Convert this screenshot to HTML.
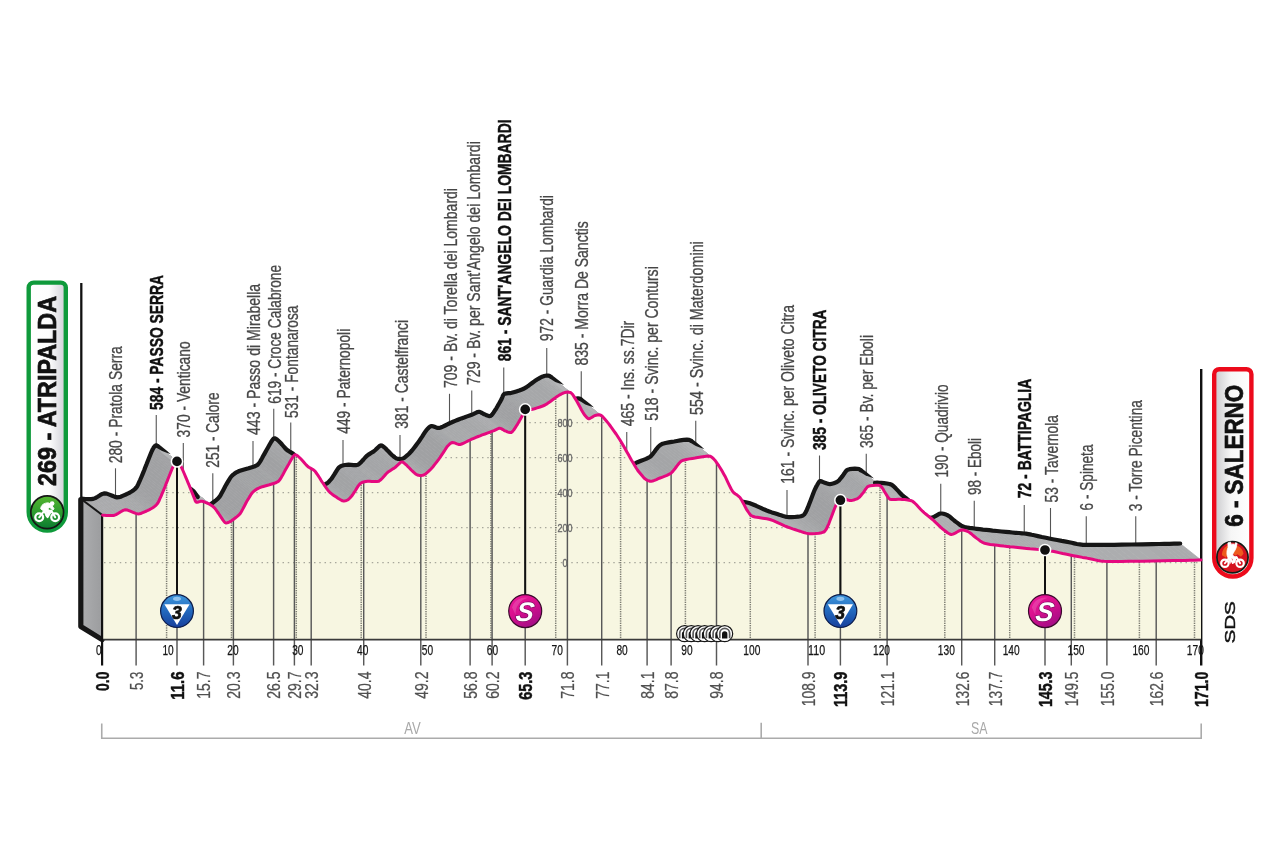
<!DOCTYPE html>
<html lang="it"><head><meta charset="utf-8"><title>Atripalda - Salerno</title>
<style>html,body{margin:0;padding:0;background:#fff}body{width:1280px;height:852px;overflow:hidden}svg{display:block}text{font-family:"Liberation Sans",Arial,Helvetica,sans-serif}.l{fill:#474747;font-size:19px;stroke:#474747;stroke-width:.3px}.b{fill:#111;font-size:19px;font-weight:bold;stroke:#111;stroke-width:.45px}.k{fill:#505050;font-size:19px;stroke:#505050;stroke-width:.25px}.kb{fill:#111;font-size:19px;font-weight:bold;stroke:#111;stroke-width:.45px}.h{fill:#151515;font-size:14.2px;text-anchor:middle;stroke:#151515;stroke-width:.25px}.e{fill:#6a6a6a;font-size:11px;text-anchor:middle;stroke:#6a6a6a;stroke-width:.35px}.p{fill:#a9a9a9;font-size:16.5px;text-anchor:middle}</style></head><body>
<svg width="1280" height="852" viewBox="0 0 1280 852">
<defs><linearGradient id="gl" x1="0" y1="0" x2="1" y2="0"><stop offset="0" stop-color="#fff"/><stop offset="0.55" stop-color="#fdfdfd"/><stop offset="1" stop-color="#cfcfd6"/></linearGradient><linearGradient id="gr" x1="0" y1="0" x2="1" y2="0"><stop offset="0" stop-color="#c9c9cc"/><stop offset="0.45" stop-color="#f6f6f6"/><stop offset="1" stop-color="#fff"/></linearGradient><linearGradient id="gg" x1="0" y1="0" x2="0" y2="1"><stop offset="0" stop-color="#55b52f"/><stop offset="0.55" stop-color="#2a9a30"/><stop offset="1" stop-color="#0a7a30"/></linearGradient><linearGradient id="gb" x1="0" y1="0" x2="0" y2="1"><stop offset="0" stop-color="#3f97dc"/><stop offset="0.5" stop-color="#2268bd"/><stop offset="1" stop-color="#173f9c"/></linearGradient><linearGradient id="gp" x1="0" y1="0" x2="0.6" y2="1"><stop offset="0" stop-color="#f01a9c"/><stop offset="0.5" stop-color="#d90f8e"/><stop offset="1" stop-color="#a60d86"/></linearGradient><radialGradient id="grd" cx="0.5" cy="0.45" r="0.6"><stop offset="0" stop-color="#ea5a28"/><stop offset="0.6" stop-color="#dc2a20"/><stop offset="1" stop-color="#c8141c"/></radialGradient><linearGradient id="side" x1="0" y1="0" x2="1" y2="0"><stop offset="0" stop-color="#adaeb0"/><stop offset="1" stop-color="#9b9c9e"/></linearGradient><g id="tun"><circle r="8.0" fill="#fff" stroke="#151515" stroke-width="1.2"/><path d="M-4.9 4.6V-0.4a4.9 4.9 0 0 1 9.8 0V4.6" fill="none" stroke="#5a5a5a" stroke-width="1.7"/><path d="M-2.7 4.9V0.2a2.7 2.7 0 0 1 5.4 0V4.9Z" fill="#111"/></g><g id="bike" fill="none" stroke="#fff"><circle cx="-8" cy="5" r="3.9" stroke-width="2.3"/><circle cx="8" cy="5" r="3.9" stroke-width="2.3"/><path d="M-8 5L-3 -1.5H4.2L8 5M-3 -1.5L0.3 4.8L4.2 -1.5" stroke-width="2" stroke-linejoin="round" stroke-linecap="round"/></g></defs>
<rect width="1280" height="852" fill="#fff"/>
<g stroke="#555" stroke-width="1.1">
<line x1="115.50" y1="468.3" x2="115.50" y2="497.4"/>
<line x1="156.25" y1="415.0" x2="156.25" y2="445.8"/>
<line x1="183.30" y1="443.0" x2="183.30" y2="486.1"/>
<line x1="212.80" y1="473.3" x2="212.80" y2="503.1"/>
<line x1="253.00" y1="441.0" x2="253.00" y2="467.4"/>
<line x1="273.75" y1="408.8" x2="273.75" y2="439.0"/>
<line x1="290.75" y1="422.5" x2="290.75" y2="452.9"/>
<line x1="343.00" y1="440.0" x2="343.00" y2="466.5"/>
<line x1="400.00" y1="435.0" x2="400.00" y2="459.0"/>
<line x1="449.50" y1="393.8" x2="449.50" y2="423.9"/>
<line x1="471.75" y1="390.5" x2="471.75" y2="415.2"/>
<line x1="503.75" y1="367.5" x2="503.75" y2="395.4"/>
<line x1="546.75" y1="348.0" x2="546.75" y2="376.7"/>
<line x1="581.25" y1="371.2" x2="581.25" y2="400.4"/>
<line x1="626.75" y1="432.0" x2="626.75" y2="463.8"/>
<line x1="650.75" y1="427.0" x2="650.75" y2="456.6"/>
<line x1="695.75" y1="420.8" x2="695.75" y2="446.8"/>
<line x1="787.00" y1="490.0" x2="787.00" y2="517.2"/>
<line x1="819.50" y1="455.5" x2="819.50" y2="482.2"/>
<line x1="866.25" y1="453.8" x2="866.25" y2="479.3"/>
<line x1="940.75" y1="483.8" x2="940.75" y2="514.1"/>
<line x1="974.25" y1="500.8" x2="974.25" y2="529.0"/>
<line x1="1024.25" y1="505.0" x2="1024.25" y2="534.0"/>
<line x1="1050.50" y1="508.0" x2="1050.50" y2="539.2"/>
<line x1="1086.25" y1="516.2" x2="1086.25" y2="545.2"/>
<line x1="1135.75" y1="516.2" x2="1135.75" y2="544.9"/>
</g>
<line x1="81.3" y1="283" x2="81.3" y2="500" stroke="#111" stroke-width="2.3"/>
<line x1="1201.2" y1="369" x2="1201.2" y2="665.5" stroke="#111" stroke-width="2.4"/>
<g stroke-width="0.7">
<polygon points="102.6,515.2 104.1,515.3 83.3,498.8 81.8,498.7" fill="#a8a9ab" stroke="#a8a9ab"/>
<polygon points="104.1,515.3 106.4,515.5 85.6,499.0 83.3,498.8" fill="#a8a9ab" stroke="#a8a9ab"/>
<polygon points="106.4,515.5 109.2,515.6 88.4,499.1 85.6,499.0" fill="#aaabad" stroke="#aaabad"/>
<polygon points="109.2,515.6 111.8,515.6 91.0,499.1 88.4,499.1" fill="#aaabad" stroke="#aaabad"/>
<polygon points="111.8,515.6 114.0,515.4 93.2,498.9 91.0,499.1" fill="#aaabad" stroke="#aaabad"/>
<polygon points="114.0,515.4 116.0,514.6 95.2,498.1 93.2,498.9" fill="#aaabad" stroke="#aaabad"/>
<polygon points="116.0,514.6 118.4,513.2 97.6,496.7 95.2,498.1" fill="#aaabad" stroke="#aaabad"/>
<polygon points="118.4,513.2 120.8,511.7 100.0,495.2 97.6,496.7" fill="#aaabad" stroke="#aaabad"/>
<polygon points="120.8,511.7 123.2,510.4 102.4,493.9 100.0,495.2" fill="#aaabad" stroke="#aaabad"/>
<polygon points="123.2,510.4 125.3,509.8 104.5,493.3 102.4,493.9" fill="#aaabad" stroke="#aaabad"/>
<polygon points="125.3,509.8 127.5,510.1 106.7,493.6 104.5,493.3" fill="#aaabad" stroke="#aaabad"/>
<polygon points="127.5,510.1 130.2,511.1 109.4,494.6 106.7,493.6" fill="#aaabad" stroke="#aaabad"/>
<polygon points="130.2,511.1 133.1,512.3 112.3,495.8 109.4,494.6" fill="#a8a9ab" stroke="#a8a9ab"/>
<polygon points="133.1,512.3 135.8,513.4 115.0,496.9 112.3,495.8" fill="#a8a9ab" stroke="#a8a9ab"/>
<polygon points="135.8,513.4 137.8,513.9 117.0,497.4 115.0,496.9" fill="#a8a9ab" stroke="#a8a9ab"/>
<polygon points="137.8,513.9 139.6,513.7 118.8,497.2 117.0,497.4" fill="#a8a9ab" stroke="#a8a9ab"/>
<polygon points="139.6,513.7 141.5,513.2 120.7,496.7 118.8,497.2" fill="#a8a9ab" stroke="#a8a9ab"/>
<polygon points="141.5,513.2 143.4,512.4 122.6,495.9 120.7,496.7" fill="#a8a9ab" stroke="#a8a9ab"/>
<polygon points="143.4,512.4 145.2,511.6 124.4,495.1 122.6,495.9" fill="#a8a9ab" stroke="#a8a9ab"/>
<polygon points="145.2,511.6 146.6,511.0 125.8,494.5 124.4,495.1" fill="#a8a9ab" stroke="#a8a9ab"/>
<polygon points="146.6,511.0 147.9,510.4 127.1,493.9 125.8,494.5" fill="#a6a7a9" stroke="#a6a7a9"/>
<polygon points="147.9,510.4 149.5,509.6 128.7,493.1 127.1,493.9" fill="#a6a7a9" stroke="#a6a7a9"/>
<polygon points="149.5,509.6 151.0,508.8 130.2,492.3 128.7,493.1" fill="#a4a5a7" stroke="#a4a5a7"/>
<polygon points="151.0,508.8 152.4,508.0 131.6,491.5 130.2,492.3" fill="#a4a5a7" stroke="#a4a5a7"/>
<polygon points="152.4,508.0 153.5,507.3 132.7,490.8 131.6,491.5" fill="#a2a3a5" stroke="#a2a3a5"/>
<polygon points="153.5,507.3 154.4,506.6 133.6,490.1 132.7,490.8" fill="#a2a3a5" stroke="#a2a3a5"/>
<polygon points="154.4,506.6 155.3,505.9 134.5,489.4 133.6,490.1" fill="#a0a1a3" stroke="#a0a1a3"/>
<polygon points="155.3,505.9 156.2,505.0 135.4,488.5 134.5,489.4" fill="#a0a1a3" stroke="#a0a1a3"/>
<polygon points="156.2,505.0 157.1,504.0 136.3,487.5 135.4,488.5" fill="#a0a1a3" stroke="#a0a1a3"/>
<polygon points="157.1,504.0 157.9,502.9 137.1,486.4 136.3,487.5" fill="#a0a1a3" stroke="#a0a1a3"/>
<polygon points="157.9,502.9 158.8,501.3 138.0,484.8 137.1,486.4" fill="#a0a1a3" stroke="#a0a1a3"/>
<polygon points="158.8,501.3 159.8,498.9 139.0,482.4 138.0,484.8" fill="#a0a1a3" stroke="#a0a1a3"/>
<polygon points="159.8,498.9 161.0,496.3 140.2,479.8 139.0,482.4" fill="#a0a1a3" stroke="#a0a1a3"/>
<polygon points="161.0,496.3 162.1,493.7 141.3,477.2 140.2,479.8" fill="#a0a1a3" stroke="#a0a1a3"/>
<polygon points="162.1,493.7 163.0,491.6 142.2,475.1 141.3,477.2" fill="#a0a1a3" stroke="#a0a1a3"/>
<polygon points="163.0,491.6 163.9,489.4 143.1,472.9 142.2,475.1" fill="#a0a1a3" stroke="#a0a1a3"/>
<polygon points="163.9,489.4 165.0,486.7 144.2,470.2 143.1,472.9" fill="#a0a1a3" stroke="#a0a1a3"/>
<polygon points="165.0,486.7 166.1,483.8 145.3,467.3 144.2,470.2" fill="#a0a1a3" stroke="#a0a1a3"/>
<polygon points="166.1,483.8 167.2,481.1 146.4,464.6 145.3,467.3" fill="#a0a1a3" stroke="#a0a1a3"/>
<polygon points="167.2,481.1 168.0,479.0 147.2,462.5 146.4,464.6" fill="#a0a1a3" stroke="#a0a1a3"/>
<polygon points="168.0,479.0 168.8,477.0 148.0,460.5 147.2,462.5" fill="#a0a1a3" stroke="#a0a1a3"/>
<polygon points="168.8,477.0 169.7,474.8 148.9,458.3 148.0,460.5" fill="#a0a1a3" stroke="#a0a1a3"/>
<polygon points="169.7,474.8 170.6,472.5 149.8,456.0 148.9,458.3" fill="#a0a1a3" stroke="#a0a1a3"/>
<polygon points="170.6,472.5 171.4,470.5 150.6,454.0 149.8,456.0" fill="#a0a1a3" stroke="#a0a1a3"/>
<polygon points="171.4,470.5 172.0,469.0 151.2,452.5 150.6,454.0" fill="#a0a1a3" stroke="#a0a1a3"/>
<polygon points="172.0,469.0 172.5,467.9 151.7,451.4 151.2,452.5" fill="#a0a1a3" stroke="#a0a1a3"/>
<polygon points="172.5,467.9 173.0,466.8 152.2,450.3 151.7,451.4" fill="#a0a1a3" stroke="#a0a1a3"/>
<polygon points="173.0,466.8 173.5,465.8 152.7,449.3 152.2,450.3" fill="#a0a1a3" stroke="#a0a1a3"/>
<polygon points="173.5,465.8 174.0,464.9 153.2,448.4 152.7,449.3" fill="#a0a1a3" stroke="#a0a1a3"/>
<polygon points="174.0,464.9 174.3,464.3 153.5,447.8 153.2,448.4" fill="#a0a1a3" stroke="#a0a1a3"/>
<polygon points="174.3,464.3 174.6,463.8 153.8,447.3 153.5,447.8" fill="#a0a1a3" stroke="#a0a1a3"/>
<polygon points="174.6,463.8 174.9,463.4 154.1,446.9 153.8,447.3" fill="#a0a1a3" stroke="#a0a1a3"/>
<polygon points="174.9,463.4 175.3,463.0 154.5,446.5 154.1,446.9" fill="#a0a1a3" stroke="#a0a1a3"/>
<polygon points="175.3,463.0 175.6,462.6 154.8,446.1 154.5,446.5" fill="#a2a3a5" stroke="#a2a3a5"/>
<polygon points="175.6,462.6 175.8,462.4 155.0,445.9 154.8,446.1" fill="#a2a3a5" stroke="#a2a3a5"/>
<polygon points="175.8,462.4 176.0,462.2 155.2,445.7 155.0,445.9" fill="#a4a5a7" stroke="#a4a5a7"/>
<polygon points="176.0,462.2 176.3,462.1 155.5,445.6 155.2,445.7" fill="#a6a7a9" stroke="#a6a7a9"/>
<polygon points="176.3,462.1 176.5,461.9 155.7,445.4 155.5,445.6" fill="#a6a7a9" stroke="#a6a7a9"/>
<polygon points="176.5,461.9 176.8,461.8 156.0,445.3 155.7,445.4" fill="#a8a9ab" stroke="#a8a9ab"/>
<polygon points="176.8,461.8 177.0,461.8 156.2,445.3 156.0,445.3" fill="#aaabad" stroke="#aaabad"/>
<polygon points="177.0,461.8 177.2,461.8 156.4,445.3 156.2,445.3" fill="#acadaf" stroke="#acadaf"/>
<polygon points="177.2,461.8 177.5,461.9 156.7,445.4 156.4,445.3" fill="#aeafb1" stroke="#aeafb1"/>
<polygon points="177.5,461.9 177.7,462.1 156.9,445.6 156.7,445.4" fill="#b0b1b3" stroke="#b0b1b3"/>
<polygon points="177.7,462.1 178.0,462.2 157.2,445.7 156.9,445.6" fill="#b0b1b3" stroke="#b0b1b3"/>
<polygon points="178.0,462.2 178.2,462.4 157.4,445.9 157.2,445.7" fill="#b2b3b5" stroke="#b2b3b5"/>
<polygon points="178.2,462.4 178.4,462.6 157.6,446.1 157.4,445.9" fill="#b4b5b7" stroke="#b4b5b7"/>
<polygon points="178.4,462.6 178.7,463.0 157.9,446.5 157.6,446.1" fill="#b4b5b7" stroke="#b4b5b7"/>
<polygon points="178.7,463.0 179.1,463.4 158.3,446.9 157.9,446.5" fill="#b6b7b9" stroke="#b6b7b9"/>
<polygon points="179.1,463.4 179.4,463.8 158.6,447.3 158.3,446.9" fill="#b6b7b9" stroke="#b6b7b9"/>
<polygon points="179.4,463.8 179.7,464.3 158.9,447.8 158.6,447.3" fill="#b6b7b9" stroke="#b6b7b9"/>
<polygon points="179.7,464.3 180.0,464.8 159.2,448.3 158.9,447.8" fill="#b6b7b9" stroke="#b6b7b9"/>
<polygon points="180.0,464.8 180.4,465.4 159.6,448.9 159.2,448.3" fill="#b6b7b9" stroke="#b6b7b9"/>
<polygon points="180.4,465.4 180.9,466.2 160.1,449.7 159.6,448.9" fill="#b6b7b9" stroke="#b6b7b9"/>
<polygon points="180.9,466.2 181.4,467.2 160.6,450.7 160.1,449.7" fill="#b6b7b9" stroke="#b6b7b9"/>
<polygon points="181.4,467.2 182.0,468.5 161.2,452.0 160.6,450.7" fill="#b6b7b9" stroke="#b6b7b9"/>
<polygon points="196.3,502.2 197.1,502.3 176.3,485.8 175.5,485.7" fill="#b4b5b7" stroke="#b4b5b7"/>
<polygon points="197.1,502.3 198.2,502.0 177.4,485.5 176.3,485.8" fill="#b2b3b5" stroke="#b2b3b5"/>
<polygon points="198.2,502.0 199.5,501.6 178.7,485.1 177.4,485.5" fill="#b2b3b5" stroke="#b2b3b5"/>
<polygon points="199.5,501.6 200.8,501.3 180.0,484.8 178.7,485.1" fill="#b2b3b5" stroke="#b2b3b5"/>
<polygon points="200.8,501.3 201.9,501.2 181.1,484.7 180.0,484.8" fill="#b2b3b5" stroke="#b2b3b5"/>
<polygon points="201.9,501.2 203.2,501.5 182.4,485.0 181.1,484.7" fill="#b2b3b5" stroke="#b2b3b5"/>
<polygon points="203.2,501.5 204.8,502.1 184.0,485.6 182.4,485.0" fill="#b0b1b3" stroke="#b0b1b3"/>
<polygon points="204.8,502.1 206.5,502.8 185.7,486.3 184.0,485.6" fill="#b0b1b3" stroke="#b0b1b3"/>
<polygon points="206.5,502.8 208.2,503.5 187.4,487.0 185.7,486.3" fill="#b0b1b3" stroke="#b0b1b3"/>
<polygon points="208.2,503.5 209.4,504.1 188.6,487.6 187.4,487.0" fill="#b0b1b3" stroke="#b0b1b3"/>
<polygon points="209.4,504.1 210.4,504.7 189.6,488.2 188.6,487.6" fill="#b2b3b5" stroke="#b2b3b5"/>
<polygon points="210.4,504.7 211.5,505.4 190.7,488.9 189.6,488.2" fill="#b2b3b5" stroke="#b2b3b5"/>
<polygon points="211.5,505.4 212.6,506.2 191.8,489.7 190.7,488.9" fill="#b4b5b7" stroke="#b4b5b7"/>
<polygon points="212.6,506.2 213.6,507.1 192.8,490.6 191.8,489.7" fill="#b4b5b7" stroke="#b4b5b7"/>
<polygon points="213.6,507.1 214.5,507.9 193.7,491.4 192.8,490.6" fill="#b6b7b9" stroke="#b6b7b9"/>
<polygon points="214.5,507.9 215.4,509.0 194.6,492.5 193.7,491.4" fill="#b6b7b9" stroke="#b6b7b9"/>
<polygon points="215.4,509.0 216.4,510.4 195.6,493.9 194.6,492.5" fill="#b6b7b9" stroke="#b6b7b9"/>
<polygon points="216.4,510.4 217.5,512.0 196.7,495.5 195.6,493.9" fill="#b6b7b9" stroke="#b6b7b9"/>
<polygon points="217.5,512.0 218.6,513.5 197.8,497.0 196.7,495.5" fill="#b6b7b9" stroke="#b6b7b9"/>
<polygon points="218.6,513.5 219.5,514.8 198.7,498.3 197.8,497.0" fill="#b4b5b7" stroke="#b4b5b7"/>
<polygon points="225.2,522.7 226.1,523.0 205.3,506.5 204.4,506.2" fill="#b0b1b3" stroke="#b0b1b3"/>
<polygon points="226.1,523.0 227.2,522.8 206.4,506.3 205.3,506.5" fill="#aeafb1" stroke="#aeafb1"/>
<polygon points="227.2,522.8 228.3,522.5 207.5,506.0 206.4,506.3" fill="#aeafb1" stroke="#aeafb1"/>
<polygon points="228.3,522.5 229.3,522.0 208.5,505.5 207.5,506.0" fill="#acadaf" stroke="#acadaf"/>
<polygon points="229.3,522.0 230.0,521.7 209.2,505.2 208.5,505.5" fill="#aaabad" stroke="#aaabad"/>
<polygon points="230.0,521.7 230.5,521.5 209.7,505.0 209.2,505.2" fill="#aaabad" stroke="#aaabad"/>
<polygon points="230.5,521.5 230.9,521.2 210.1,504.7 209.7,505.0" fill="#a8a9ab" stroke="#a8a9ab"/>
<polygon points="230.9,521.2 231.3,520.9 210.5,504.4 210.1,504.7" fill="#a6a7a9" stroke="#a6a7a9"/>
<polygon points="231.3,520.9 231.8,520.5 211.0,504.0 210.5,504.4" fill="#a4a5a7" stroke="#a4a5a7"/>
<polygon points="231.8,520.5 232.5,520.0 211.7,503.5 211.0,504.0" fill="#a2a3a5" stroke="#a2a3a5"/>
<polygon points="232.5,520.0 233.6,519.2 212.8,502.7 211.7,503.5" fill="#a2a3a5" stroke="#a2a3a5"/>
<polygon points="233.6,519.2 235.2,518.0 214.4,501.5 212.8,502.7" fill="#a0a1a3" stroke="#a0a1a3"/>
<polygon points="235.2,518.0 237.0,516.6 216.2,500.1 214.4,501.5" fill="#a0a1a3" stroke="#a0a1a3"/>
<polygon points="237.0,516.6 238.7,515.2 217.9,498.7 216.2,500.1" fill="#a0a1a3" stroke="#a0a1a3"/>
<polygon points="238.7,515.2 240.0,513.8 219.2,497.2 217.9,498.7" fill="#a0a1a3" stroke="#a0a1a3"/>
<polygon points="240.0,513.8 241.2,512.0 220.4,495.5 219.2,497.2" fill="#a0a1a3" stroke="#a0a1a3"/>
<polygon points="241.2,512.0 242.5,509.6 221.7,493.1 220.4,495.5" fill="#a0a1a3" stroke="#a0a1a3"/>
<polygon points="242.5,509.6 243.9,507.0 223.1,490.5 221.7,493.1" fill="#a0a1a3" stroke="#a0a1a3"/>
<polygon points="243.9,507.0 245.2,504.5 224.4,488.0 223.1,490.5" fill="#a0a1a3" stroke="#a0a1a3"/>
<polygon points="245.2,504.5 246.2,502.5 225.4,486.0 224.4,488.0" fill="#a0a1a3" stroke="#a0a1a3"/>
<polygon points="246.2,502.5 247.3,500.6 226.5,484.1 225.4,486.0" fill="#a0a1a3" stroke="#a0a1a3"/>
<polygon points="247.3,500.6 248.6,498.4 227.8,481.9 226.5,484.1" fill="#a0a1a3" stroke="#a0a1a3"/>
<polygon points="248.6,498.4 250.0,496.1 229.2,479.6 227.8,481.9" fill="#a0a1a3" stroke="#a0a1a3"/>
<polygon points="250.0,496.1 251.3,494.0 230.5,477.5 229.2,479.6" fill="#a0a1a3" stroke="#a0a1a3"/>
<polygon points="251.3,494.0 252.5,492.5 231.7,476.0 230.5,477.5" fill="#a0a1a3" stroke="#a0a1a3"/>
<polygon points="252.5,492.5 253.7,491.4 232.9,474.9 231.7,476.0" fill="#a0a1a3" stroke="#a0a1a3"/>
<polygon points="253.7,491.4 255.1,490.3 234.3,473.8 232.9,474.9" fill="#a2a3a5" stroke="#a2a3a5"/>
<polygon points="255.1,490.3 256.6,489.2 235.8,472.7 234.3,473.8" fill="#a2a3a5" stroke="#a2a3a5"/>
<polygon points="256.6,489.2 258.3,488.3 237.5,471.8 235.8,472.7" fill="#a2a3a5" stroke="#a2a3a5"/>
<polygon points="258.3,488.3 260.0,487.5 239.2,471.0 237.5,471.8" fill="#a2a3a5" stroke="#a2a3a5"/>
<polygon points="260.0,487.5 262.4,486.7 241.6,470.2 239.2,471.0" fill="#a2a3a5" stroke="#a2a3a5"/>
<polygon points="262.4,486.7 265.8,485.7 245.0,469.2 241.6,470.2" fill="#a2a3a5" stroke="#a2a3a5"/>
<polygon points="265.8,485.7 269.4,484.7 248.6,468.2 245.0,469.2" fill="#a2a3a5" stroke="#a2a3a5"/>
<polygon points="269.4,484.7 272.7,483.7 251.9,467.2 248.6,468.2" fill="#a2a3a5" stroke="#a2a3a5"/>
<polygon points="272.7,483.7 275.0,483.0 254.2,466.5 251.9,467.2" fill="#a2a3a5" stroke="#a2a3a5"/>
<polygon points="275.0,483.0 276.3,482.5 255.5,466.0 254.2,466.5" fill="#a2a3a5" stroke="#a2a3a5"/>
<polygon points="276.3,482.5 277.4,481.9 256.6,465.4 255.5,466.0" fill="#a2a3a5" stroke="#a2a3a5"/>
<polygon points="277.4,481.9 278.3,481.4 257.5,464.9 256.6,465.4" fill="#a2a3a5" stroke="#a2a3a5"/>
<polygon points="278.3,481.4 279.1,480.6 258.3,464.1 257.5,464.9" fill="#a0a1a3" stroke="#a0a1a3"/>
<polygon points="279.1,480.6 280.0,479.5 259.2,463.0 258.3,464.1" fill="#a0a1a3" stroke="#a0a1a3"/>
<polygon points="280.0,479.5 281.2,477.6 260.4,461.1 259.2,463.0" fill="#a0a1a3" stroke="#a0a1a3"/>
<polygon points="281.2,477.6 282.8,474.8 262.0,458.3 260.4,461.1" fill="#a0a1a3" stroke="#a0a1a3"/>
<polygon points="282.8,474.8 284.5,471.6 263.7,455.1 262.0,458.3" fill="#a0a1a3" stroke="#a0a1a3"/>
<polygon points="284.5,471.6 286.2,468.6 265.4,452.1 263.7,455.1" fill="#a0a1a3" stroke="#a0a1a3"/>
<polygon points="286.2,468.6 287.5,466.2 266.7,449.8 265.4,452.1" fill="#a2a3a5" stroke="#a2a3a5"/>
<polygon points="287.5,466.2 288.8,464.0 268.0,447.5 266.7,449.8" fill="#a2a3a5" stroke="#a2a3a5"/>
<polygon points="288.8,464.0 290.3,461.3 269.5,444.8 268.0,447.5" fill="#a4a5a7" stroke="#a4a5a7"/>
<polygon points="290.3,461.3 291.9,458.5 271.1,442.0 269.5,444.8" fill="#a4a5a7" stroke="#a4a5a7"/>
<polygon points="291.9,458.5 293.3,456.3 272.5,439.8 271.1,442.0" fill="#a6a7a9" stroke="#a6a7a9"/>
<polygon points="293.3,456.3 294.5,455.0 273.7,438.5 272.5,439.8" fill="#a6a7a9" stroke="#a6a7a9"/>
<polygon points="294.5,455.0 295.5,454.8 274.7,438.3 273.7,438.5" fill="#a8a9ab" stroke="#a8a9ab"/>
<polygon points="295.5,454.8 296.6,455.2 275.8,438.7 274.7,438.3" fill="#aaabad" stroke="#aaabad"/>
<polygon points="296.6,455.2 297.8,456.0 277.0,439.5 275.8,438.7" fill="#aaabad" stroke="#aaabad"/>
<polygon points="297.8,456.0 298.9,457.0 278.1,440.5 277.0,439.5" fill="#acadaf" stroke="#acadaf"/>
<polygon points="298.9,457.0 300.0,458.0 279.2,441.5 278.1,440.5" fill="#aeafb1" stroke="#aeafb1"/>
<polygon points="300.0,458.0 301.2,459.2 280.4,442.7 279.2,441.5" fill="#aeafb1" stroke="#aeafb1"/>
<polygon points="301.2,459.2 302.8,461.0 282.0,444.5 280.4,442.7" fill="#b0b1b3" stroke="#b0b1b3"/>
<polygon points="302.8,461.0 304.5,463.0 283.7,446.5 282.0,444.5" fill="#b2b3b5" stroke="#b2b3b5"/>
<polygon points="304.5,463.0 306.1,464.9 285.3,448.4 283.7,446.5" fill="#b4b5b7" stroke="#b4b5b7"/>
<polygon points="306.1,464.9 307.5,466.2 286.7,449.8 285.3,448.4" fill="#b6b7b9" stroke="#b6b7b9"/>
<polygon points="307.5,466.2 308.8,467.2 288.0,450.7 286.7,449.8" fill="#b6b7b9" stroke="#b6b7b9"/>
<polygon points="308.8,467.2 310.4,468.1 289.6,451.6 288.0,450.7" fill="#b6b7b9" stroke="#b6b7b9"/>
<polygon points="310.4,468.1 312.1,469.1 291.3,452.6 289.6,451.6" fill="#b6b7b9" stroke="#b6b7b9"/>
<polygon points="312.1,469.1 313.7,470.1 292.9,453.6 291.3,452.6" fill="#b6b7b9" stroke="#b6b7b9"/>
<polygon points="313.7,470.1 315.0,471.2 294.2,454.8 292.9,453.6" fill="#b6b7b9" stroke="#b6b7b9"/>
<polygon points="315.0,471.2 316.3,473.0 295.5,456.5 294.2,454.8" fill="#b6b7b9" stroke="#b6b7b9"/>
<polygon points="316.3,473.0 318.0,475.4 297.2,458.9 295.5,456.5" fill="#b6b7b9" stroke="#b6b7b9"/>
<polygon points="331.1,493.4 332.5,494.5 311.7,478.0 310.3,476.9" fill="#b4b5b7" stroke="#b4b5b7"/>
<polygon points="332.5,494.5 333.8,495.4 313.0,478.9 311.7,478.0" fill="#b4b5b7" stroke="#b4b5b7"/>
<polygon points="333.8,495.4 335.0,496.2 314.2,479.8 313.0,478.9" fill="#b2b3b5" stroke="#b2b3b5"/>
<polygon points="335.0,496.2 336.3,497.1 315.5,480.6 314.2,479.8" fill="#b2b3b5" stroke="#b2b3b5"/>
<polygon points="336.3,497.1 337.9,498.2 317.1,481.7 315.5,480.6" fill="#b0b1b3" stroke="#b0b1b3"/>
<polygon points="337.9,498.2 339.7,499.3 318.9,482.8 317.1,481.7" fill="#b0b1b3" stroke="#b0b1b3"/>
<polygon points="339.7,499.3 341.3,500.2 320.5,483.7 318.9,482.8" fill="#aeafb1" stroke="#aeafb1"/>
<polygon points="341.3,500.2 342.5,500.8 321.7,484.2 320.5,483.7" fill="#acadaf" stroke="#acadaf"/>
<polygon points="342.5,500.8 343.5,500.9 322.7,484.4 321.7,484.2" fill="#acadaf" stroke="#acadaf"/>
<polygon points="343.5,500.9 344.6,500.9 323.8,484.4 322.7,484.4" fill="#aaabad" stroke="#aaabad"/>
<polygon points="344.6,500.9 345.6,500.7 324.8,484.2 323.8,484.4" fill="#a8a9ab" stroke="#a8a9ab"/>
<polygon points="345.6,500.7 346.6,500.4 325.8,483.9 324.8,484.2" fill="#a8a9ab" stroke="#a8a9ab"/>
<polygon points="346.6,500.4 347.5,500.0 326.7,483.5 325.8,483.9" fill="#a6a7a9" stroke="#a6a7a9"/>
<polygon points="347.5,500.0 348.4,499.4 327.6,482.9 326.7,483.5" fill="#a4a5a7" stroke="#a4a5a7"/>
<polygon points="348.4,499.4 349.4,498.5 328.6,482.0 327.6,482.9" fill="#a4a5a7" stroke="#a4a5a7"/>
<polygon points="349.4,498.5 350.4,497.4 329.6,480.9 328.6,482.0" fill="#a4a5a7" stroke="#a4a5a7"/>
<polygon points="350.4,497.4 351.5,496.2 330.7,479.7 329.6,480.9" fill="#a2a3a5" stroke="#a2a3a5"/>
<polygon points="351.5,496.2 352.5,495.0 331.7,478.5 330.7,479.7" fill="#a2a3a5" stroke="#a2a3a5"/>
<polygon points="352.5,495.0 353.7,493.2 332.9,476.7 331.7,478.5" fill="#a2a3a5" stroke="#a2a3a5"/>
<polygon points="353.7,493.2 355.3,490.7 334.5,474.2 332.9,476.7" fill="#a2a3a5" stroke="#a2a3a5"/>
<polygon points="355.3,490.7 357.0,487.9 336.2,471.4 334.5,474.2" fill="#a2a3a5" stroke="#a2a3a5"/>
<polygon points="357.0,487.9 358.6,485.4 337.8,468.9 336.2,471.4" fill="#a2a3a5" stroke="#a2a3a5"/>
<polygon points="358.6,485.4 360.0,483.8 339.2,467.2 337.8,468.9" fill="#a4a5a7" stroke="#a4a5a7"/>
<polygon points="360.0,483.8 361.3,482.9 340.5,466.4 339.2,467.2" fill="#a4a5a7" stroke="#a4a5a7"/>
<polygon points="361.3,482.9 362.8,482.2 342.0,465.7 340.5,466.4" fill="#a4a5a7" stroke="#a4a5a7"/>
<polygon points="362.8,482.2 364.4,481.8 343.6,465.3 342.0,465.7" fill="#a4a5a7" stroke="#a4a5a7"/>
<polygon points="364.4,481.8 366.0,481.5 345.2,465.0 343.6,465.3" fill="#a4a5a7" stroke="#a4a5a7"/>
<polygon points="366.0,481.5 367.5,481.2 346.7,464.8 345.2,465.0" fill="#a4a5a7" stroke="#a4a5a7"/>
<polygon points="367.5,481.2 369.3,481.2 348.5,464.7 346.7,464.8" fill="#a4a5a7" stroke="#a4a5a7"/>
<polygon points="369.3,481.2 371.8,481.4 351.0,464.9 348.5,464.7" fill="#a4a5a7" stroke="#a4a5a7"/>
<polygon points="371.8,481.4 374.4,481.6 353.6,465.1 351.0,464.9" fill="#a4a5a7" stroke="#a4a5a7"/>
<polygon points="374.4,481.6 376.8,481.6 356.0,465.1 353.6,465.1" fill="#a6a7a9" stroke="#a6a7a9"/>
<polygon points="376.8,481.6 378.8,481.2 357.9,464.8 356.0,465.1" fill="#a6a7a9" stroke="#a6a7a9"/>
<polygon points="378.8,481.2 380.4,480.1 359.6,463.6 357.9,464.8" fill="#a6a7a9" stroke="#a6a7a9"/>
<polygon points="380.4,480.1 382.3,478.2 361.5,461.7 359.6,463.6" fill="#a6a7a9" stroke="#a6a7a9"/>
<polygon points="382.3,478.2 384.3,476.0 363.5,459.5 361.5,461.7" fill="#a4a5a7" stroke="#a4a5a7"/>
<polygon points="384.3,476.0 386.0,474.0 365.2,457.5 363.5,459.5" fill="#a4a5a7" stroke="#a4a5a7"/>
<polygon points="386.0,474.0 387.5,472.5 366.7,456.0 365.2,457.5" fill="#a4a5a7" stroke="#a4a5a7"/>
<polygon points="387.5,472.5 388.9,471.4 368.1,454.9 366.7,456.0" fill="#a4a5a7" stroke="#a4a5a7"/>
<polygon points="388.9,471.4 390.5,470.4 369.7,453.9 368.1,454.9" fill="#a4a5a7" stroke="#a4a5a7"/>
<polygon points="390.5,470.4 392.2,469.3 371.4,452.8 369.7,453.9" fill="#a4a5a7" stroke="#a4a5a7"/>
<polygon points="392.2,469.3 393.7,468.4 372.9,451.9 371.4,452.8" fill="#a4a5a7" stroke="#a4a5a7"/>
<polygon points="393.7,468.4 395.0,467.5 374.2,451.0 372.9,451.9" fill="#a4a5a7" stroke="#a4a5a7"/>
<polygon points="395.0,467.5 396.2,466.5 375.4,450.0 374.2,451.0" fill="#a6a7a9" stroke="#a6a7a9"/>
<polygon points="396.2,466.5 397.6,465.1 376.8,448.6 375.4,450.0" fill="#a6a7a9" stroke="#a6a7a9"/>
<polygon points="397.6,465.1 399.0,463.8 378.2,447.3 376.8,448.6" fill="#a8a9ab" stroke="#a8a9ab"/>
<polygon points="399.0,463.8 400.3,462.6 379.5,446.1 378.2,447.3" fill="#aaabad" stroke="#aaabad"/>
<polygon points="400.3,462.6 401.2,462.0 380.4,445.5 379.5,446.1" fill="#aaabad" stroke="#aaabad"/>
<polygon points="401.2,462.0 402.0,461.9 381.2,445.4 380.4,445.5" fill="#acadaf" stroke="#acadaf"/>
<polygon points="402.0,461.9 402.7,462.1 381.9,445.6 381.2,445.4" fill="#acadaf" stroke="#acadaf"/>
<polygon points="402.7,462.1 403.4,462.5 382.6,446.0 381.9,445.6" fill="#acadaf" stroke="#acadaf"/>
<polygon points="403.4,462.5 404.2,463.1 383.4,446.6 382.6,446.0" fill="#aeafb1" stroke="#aeafb1"/>
<polygon points="404.2,463.1 405.0,463.8 384.2,447.2 383.4,446.6" fill="#aeafb1" stroke="#aeafb1"/>
<polygon points="405.0,463.8 406.2,464.8 385.4,448.3 384.2,447.2" fill="#b0b1b3" stroke="#b0b1b3"/>
<polygon points="406.2,464.8 407.8,466.5 387.0,450.0 385.4,448.3" fill="#b0b1b3" stroke="#b0b1b3"/>
<polygon points="407.8,466.5 409.6,468.3 388.8,451.8 387.0,450.0" fill="#b0b1b3" stroke="#b0b1b3"/>
<polygon points="409.6,468.3 411.2,470.0 390.4,453.5 388.8,451.8" fill="#b2b3b5" stroke="#b2b3b5"/>
<polygon points="411.2,470.0 412.5,471.2 391.7,454.8 390.4,453.5" fill="#b2b3b5" stroke="#b2b3b5"/>
<polygon points="412.5,471.2 413.5,472.1 392.7,455.6 391.7,454.8" fill="#b2b3b5" stroke="#b2b3b5"/>
<polygon points="413.5,472.1 414.5,473.0 393.7,456.5 392.7,455.6" fill="#b0b1b3" stroke="#b0b1b3"/>
<polygon points="414.5,473.0 415.6,473.9 394.8,457.4 393.7,456.5" fill="#b0b1b3" stroke="#b0b1b3"/>
<polygon points="415.6,473.9 416.6,474.6 395.8,458.1 394.8,457.4" fill="#b0b1b3" stroke="#b0b1b3"/>
<polygon points="416.6,474.6 417.5,475.0 396.7,458.5 395.8,458.1" fill="#aeafb1" stroke="#aeafb1"/>
<polygon points="417.5,475.0 418.5,475.3 397.7,458.8 396.7,458.5" fill="#aeafb1" stroke="#aeafb1"/>
<polygon points="418.5,475.3 419.8,475.4 399.0,458.9 397.7,458.8" fill="#acadaf" stroke="#acadaf"/>
<polygon points="419.8,475.4 421.2,475.5 400.4,459.0 399.0,458.9" fill="#aaabad" stroke="#aaabad"/>
<polygon points="421.2,475.5 422.6,475.3 401.8,458.8 400.4,459.0" fill="#aaabad" stroke="#aaabad"/>
<polygon points="422.6,475.3 423.8,475.0 402.9,458.5 401.8,458.8" fill="#a8a9ab" stroke="#a8a9ab"/>
<polygon points="423.8,475.0 425.0,474.3 404.2,457.8 402.9,458.5" fill="#a6a7a9" stroke="#a6a7a9"/>
<polygon points="425.0,474.3 426.5,473.1 405.7,456.6 404.2,457.8" fill="#a6a7a9" stroke="#a6a7a9"/>
<polygon points="426.5,473.1 428.2,471.7 407.4,455.2 405.7,456.6" fill="#a4a5a7" stroke="#a4a5a7"/>
<polygon points="428.2,471.7 429.8,470.2 409.0,453.7 407.4,455.2" fill="#a2a3a5" stroke="#a2a3a5"/>
<polygon points="429.8,470.2 431.2,468.8 410.4,452.2 409.0,453.7" fill="#a2a3a5" stroke="#a2a3a5"/>
<polygon points="431.2,468.8 432.8,467.0 412.0,450.5 410.4,452.2" fill="#a0a1a3" stroke="#a0a1a3"/>
<polygon points="432.8,467.0 434.6,464.7 413.8,448.2 412.0,450.5" fill="#a0a1a3" stroke="#a0a1a3"/>
<polygon points="434.6,464.7 436.6,462.1 415.8,445.6 413.8,448.2" fill="#a0a1a3" stroke="#a0a1a3"/>
<polygon points="436.6,462.1 438.5,459.6 417.7,443.1 415.8,445.6" fill="#a0a1a3" stroke="#a0a1a3"/>
<polygon points="438.5,459.6 440.0,457.5 419.2,441.0 417.7,443.1" fill="#a0a1a3" stroke="#a0a1a3"/>
<polygon points="440.0,457.5 441.4,455.4 420.6,438.9 419.2,441.0" fill="#a0a1a3" stroke="#a0a1a3"/>
<polygon points="441.4,455.4 443.1,452.9 422.3,436.4 420.6,438.9" fill="#a0a1a3" stroke="#a0a1a3"/>
<polygon points="443.1,452.9 444.8,450.2 424.0,433.7 422.3,436.4" fill="#a0a1a3" stroke="#a0a1a3"/>
<polygon points="444.8,450.2 446.3,447.9 425.5,431.4 424.0,433.7" fill="#a0a1a3" stroke="#a0a1a3"/>
<polygon points="446.3,447.9 447.5,446.2 426.7,429.8 425.5,431.4" fill="#a2a3a5" stroke="#a2a3a5"/>
<polygon points="447.5,446.2 448.5,445.2 427.7,428.7 426.7,429.8" fill="#a2a3a5" stroke="#a2a3a5"/>
<polygon points="448.5,445.2 449.5,444.2 428.7,427.7 427.7,428.7" fill="#a2a3a5" stroke="#a2a3a5"/>
<polygon points="449.5,444.2 450.5,443.4 429.7,426.9 428.7,427.7" fill="#a4a5a7" stroke="#a4a5a7"/>
<polygon points="450.5,443.4 451.5,442.8 430.7,426.3 429.7,426.9" fill="#a4a5a7" stroke="#a4a5a7"/>
<polygon points="451.5,442.8 452.5,442.5 431.7,426.0 430.7,426.3" fill="#a4a5a7" stroke="#a4a5a7"/>
<polygon points="452.5,442.5 453.7,442.7 432.9,426.2 431.7,426.0" fill="#a4a5a7" stroke="#a4a5a7"/>
<polygon points="453.7,442.7 455.2,443.2 434.4,426.7 432.9,426.2" fill="#a6a7a9" stroke="#a6a7a9"/>
<polygon points="455.2,443.2 456.9,443.9 436.1,427.4 434.4,426.7" fill="#a6a7a9" stroke="#a6a7a9"/>
<polygon points="456.9,443.9 458.5,444.4 437.7,427.9 436.1,427.4" fill="#a6a7a9" stroke="#a6a7a9"/>
<polygon points="458.5,444.4 460.0,444.5 439.2,428.0 437.7,427.9" fill="#a8a9ab" stroke="#a8a9ab"/>
<polygon points="460.0,444.5 461.6,444.0 440.8,427.5 439.2,428.0" fill="#a8a9ab" stroke="#a8a9ab"/>
<polygon points="461.6,444.0 463.7,443.1 442.9,426.6 440.8,427.5" fill="#a8a9ab" stroke="#a8a9ab"/>
<polygon points="463.7,443.1 466.0,442.0 445.2,425.5 442.9,426.6" fill="#a8a9ab" stroke="#a8a9ab"/>
<polygon points="466.0,442.0 468.2,440.9 447.4,424.4 445.2,425.5" fill="#a8a9ab" stroke="#a8a9ab"/>
<polygon points="468.2,440.9 470.0,440.0 449.2,423.5 447.4,424.4" fill="#a8a9ab" stroke="#a8a9ab"/>
<polygon points="470.0,440.0 471.7,439.2 450.9,422.7 449.2,423.5" fill="#a8a9ab" stroke="#a8a9ab"/>
<polygon points="471.7,439.2 473.8,438.3 453.0,421.8 450.9,422.7" fill="#a8a9ab" stroke="#a8a9ab"/>
<polygon points="473.8,438.3 476.0,437.4 455.2,420.9 453.0,421.8" fill="#a8a9ab" stroke="#a8a9ab"/>
<polygon points="476.0,437.4 478.1,436.5 457.3,420.0 455.2,420.9" fill="#a6a7a9" stroke="#a6a7a9"/>
<polygon points="478.1,436.5 480.0,435.8 459.2,419.2 457.3,420.0" fill="#a6a7a9" stroke="#a6a7a9"/>
<polygon points="480.0,435.8 482.2,434.9 461.4,418.4 459.2,419.2" fill="#a6a7a9" stroke="#a6a7a9"/>
<polygon points="482.2,434.9 484.9,434.0 464.1,417.5 461.4,418.4" fill="#a6a7a9" stroke="#a6a7a9"/>
<polygon points="484.9,434.0 487.9,432.9 467.1,416.4 464.1,417.5" fill="#a8a9ab" stroke="#a8a9ab"/>
<polygon points="487.9,432.9 490.5,432.0 469.7,415.5 467.1,416.4" fill="#a8a9ab" stroke="#a8a9ab"/>
<polygon points="490.5,432.0 492.5,431.2 471.7,414.8 469.7,415.5" fill="#a8a9ab" stroke="#a8a9ab"/>
<polygon points="492.5,431.2 494.0,430.6 473.2,414.1 471.7,414.8" fill="#aaabad" stroke="#aaabad"/>
<polygon points="494.0,430.6 495.6,429.8 474.8,413.3 473.2,414.1" fill="#aaabad" stroke="#aaabad"/>
<polygon points="495.6,429.8 497.1,429.1 476.3,412.6 474.8,413.3" fill="#aaabad" stroke="#aaabad"/>
<polygon points="497.1,429.1 498.4,428.5 477.6,412.0 476.3,412.6" fill="#aaabad" stroke="#aaabad"/>
<polygon points="498.4,428.5 499.5,428.2 478.7,411.8 477.6,412.0" fill="#aaabad" stroke="#aaabad"/>
<polygon points="499.5,428.2 500.5,428.4 479.7,411.9 478.7,411.8" fill="#acadaf" stroke="#acadaf"/>
<polygon points="500.5,428.4 501.7,428.9 480.9,412.4 479.7,411.9" fill="#aaabad" stroke="#aaabad"/>
<polygon points="501.7,428.9 502.9,429.6 482.1,413.1 480.9,412.4" fill="#aaabad" stroke="#aaabad"/>
<polygon points="502.9,429.6 504.0,430.3 483.2,413.8 482.1,413.1" fill="#aaabad" stroke="#aaabad"/>
<polygon points="504.0,430.3 505.0,430.8 484.2,414.2 483.2,413.8" fill="#aaabad" stroke="#aaabad"/>
<polygon points="505.0,430.8 506.1,431.2 485.3,414.7 484.2,414.2" fill="#a8a9ab" stroke="#a8a9ab"/>
<polygon points="506.1,431.2 507.4,431.8 486.6,415.3 485.3,414.7" fill="#a8a9ab" stroke="#a8a9ab"/>
<polygon points="507.4,431.8 508.9,432.3 488.1,415.8 486.6,415.3" fill="#a8a9ab" stroke="#a8a9ab"/>
<polygon points="508.9,432.3 510.2,432.6 489.4,416.1 488.1,415.8" fill="#a6a7a9" stroke="#a6a7a9"/>
<polygon points="510.2,432.6 511.2,432.5 490.4,416.0 489.4,416.1" fill="#a6a7a9" stroke="#a6a7a9"/>
<polygon points="511.2,432.5 512.2,431.8 491.4,415.3 490.4,416.0" fill="#a6a7a9" stroke="#a6a7a9"/>
<polygon points="512.2,431.8 513.2,430.6 492.4,414.1 491.4,415.3" fill="#a4a5a7" stroke="#a4a5a7"/>
<polygon points="513.2,430.6 514.3,429.2 493.5,412.7 492.4,414.1" fill="#a2a3a5" stroke="#a2a3a5"/>
<polygon points="514.3,429.2 515.3,427.6 494.5,411.1 493.5,412.7" fill="#a2a3a5" stroke="#a2a3a5"/>
<polygon points="515.3,427.6 516.2,426.2 495.4,409.8 494.5,411.1" fill="#a0a1a3" stroke="#a0a1a3"/>
<polygon points="516.2,426.2 517.3,424.6 496.5,408.1 495.4,409.8" fill="#a0a1a3" stroke="#a0a1a3"/>
<polygon points="517.3,424.6 518.5,422.4 497.7,405.9 496.5,408.1" fill="#a0a1a3" stroke="#a0a1a3"/>
<polygon points="518.5,422.4 519.9,420.0 499.1,403.5 497.7,405.9" fill="#a0a1a3" stroke="#a0a1a3"/>
<polygon points="519.9,420.0 521.1,417.9 500.3,401.4 499.1,403.5" fill="#a0a1a3" stroke="#a0a1a3"/>
<polygon points="521.1,417.9 522.0,416.2 501.2,399.8 500.3,401.4" fill="#a0a1a3" stroke="#a0a1a3"/>
<polygon points="522.0,416.2 522.6,415.0 501.8,398.5 501.2,399.8" fill="#a0a1a3" stroke="#a0a1a3"/>
<polygon points="522.6,415.0 523.2,413.6 502.4,397.1 501.8,398.5" fill="#a0a1a3" stroke="#a0a1a3"/>
<polygon points="523.2,413.6 523.7,412.3 502.9,395.8 502.4,397.1" fill="#a0a1a3" stroke="#a0a1a3"/>
<polygon points="523.7,412.3 524.3,411.2 503.5,394.7 502.9,395.8" fill="#a0a1a3" stroke="#a0a1a3"/>
<polygon points="524.3,411.2 525.0,410.5 504.2,394.0 503.5,394.7" fill="#a2a3a5" stroke="#a2a3a5"/>
<polygon points="525.0,410.5 526.0,410.1 505.2,393.6 504.2,394.0" fill="#a2a3a5" stroke="#a2a3a5"/>
<polygon points="526.0,410.1 527.5,409.9 506.7,393.4 505.2,393.6" fill="#a2a3a5" stroke="#a2a3a5"/>
<polygon points="527.5,409.9 529.1,409.7 508.3,393.2 506.7,393.4" fill="#a2a3a5" stroke="#a2a3a5"/>
<polygon points="529.1,409.7 530.9,409.6 510.1,393.1 508.3,393.2" fill="#a4a5a7" stroke="#a4a5a7"/>
<polygon points="530.9,409.6 532.5,409.2 511.7,392.8 510.1,393.1" fill="#a4a5a7" stroke="#a4a5a7"/>
<polygon points="532.5,409.2 534.5,408.7 513.7,392.2 511.7,392.8" fill="#a4a5a7" stroke="#a4a5a7"/>
<polygon points="534.5,408.7 537.1,407.9 516.3,391.4 513.7,392.2" fill="#a4a5a7" stroke="#a4a5a7"/>
<polygon points="537.1,407.9 540.0,407.0 519.2,390.5 516.3,391.4" fill="#a6a7a9" stroke="#a6a7a9"/>
<polygon points="540.0,407.0 542.7,406.0 521.9,389.5 519.2,390.5" fill="#a6a7a9" stroke="#a6a7a9"/>
<polygon points="542.7,406.0 545.0,405.0 524.2,388.5 521.9,389.5" fill="#a6a7a9" stroke="#a6a7a9"/>
<polygon points="545.0,405.0 547.3,403.6 526.5,387.1 524.2,388.5" fill="#a6a7a9" stroke="#a6a7a9"/>
<polygon points="547.3,403.6 550.0,401.7 529.2,385.2 526.5,387.1" fill="#a6a7a9" stroke="#a6a7a9"/>
<polygon points="550.0,401.7 552.9,399.5 532.1,383.0 529.2,385.2" fill="#a6a7a9" stroke="#a6a7a9"/>
<polygon points="552.9,399.5 555.5,397.6 534.7,381.1 532.1,383.0" fill="#a6a7a9" stroke="#a6a7a9"/>
<polygon points="555.5,397.6 557.5,396.2 536.7,379.8 534.7,381.1" fill="#a6a7a9" stroke="#a6a7a9"/>
<polygon points="557.5,396.2 559.1,395.3 538.3,378.8 536.7,379.8" fill="#a8a9ab" stroke="#a8a9ab"/>
<polygon points="559.1,395.3 560.7,394.4 539.9,377.9 538.3,378.8" fill="#a8a9ab" stroke="#a8a9ab"/>
<polygon points="560.7,394.4 562.3,393.5 541.5,377.0 539.9,377.9" fill="#a8a9ab" stroke="#a8a9ab"/>
<polygon points="562.3,393.5 563.8,392.9 543.0,376.4 541.5,377.0" fill="#aaabad" stroke="#aaabad"/>
<polygon points="563.8,392.9 565.0,392.5 544.2,376.0 543.0,376.4" fill="#acadaf" stroke="#acadaf"/>
<polygon points="565.0,392.5 566.2,392.3 545.4,375.8 544.2,376.0" fill="#acadaf" stroke="#acadaf"/>
<polygon points="566.2,392.3 567.5,392.1 546.7,375.6 545.4,375.8" fill="#aeafb1" stroke="#aeafb1"/>
<polygon points="567.5,392.1 568.9,392.2 548.1,375.7 546.7,375.6" fill="#aeafb1" stroke="#aeafb1"/>
<polygon points="568.9,392.2 570.2,392.4 549.4,375.9 548.1,375.7" fill="#b0b1b3" stroke="#b0b1b3"/>
<polygon points="570.2,392.4 571.2,393.0 550.5,376.5 549.4,375.9" fill="#b2b3b5" stroke="#b2b3b5"/>
<polygon points="571.2,393.0 572.4,394.2 551.6,377.7 550.5,376.5" fill="#b2b3b5" stroke="#b2b3b5"/>
<polygon points="572.4,394.2 573.7,396.1 552.9,379.6 551.6,377.7" fill="#b4b5b7" stroke="#b4b5b7"/>
<polygon points="573.7,396.1 575.1,398.4 554.3,381.9 552.9,379.6" fill="#b4b5b7" stroke="#b4b5b7"/>
<polygon points="575.1,398.4 576.4,400.6 555.6,384.1 554.3,381.9" fill="#b6b7b9" stroke="#b6b7b9"/>
<polygon points="587.8,418.3 588.8,418.8 568.0,402.2 567.0,401.8" fill="#b0b1b3" stroke="#b0b1b3"/>
<polygon points="588.8,418.8 589.8,418.5 569.0,402.0 568.0,402.2" fill="#b0b1b3" stroke="#b0b1b3"/>
<polygon points="589.8,418.5 591.1,417.8 570.3,401.3 569.0,402.0" fill="#b0b1b3" stroke="#b0b1b3"/>
<polygon points="591.1,417.8 592.5,416.9 571.7,400.4 570.3,401.3" fill="#b0b1b3" stroke="#b0b1b3"/>
<polygon points="592.5,416.9 593.9,416.0 573.1,399.5 571.7,400.4" fill="#b0b1b3" stroke="#b0b1b3"/>
<polygon points="593.9,416.0 595.0,415.5 574.2,399.0 573.1,399.5" fill="#aeafb1" stroke="#aeafb1"/>
<polygon points="595.0,415.5 596.1,415.2 575.3,398.7 574.2,399.0" fill="#aeafb1" stroke="#aeafb1"/>
<polygon points="596.1,415.2 597.3,415.0 576.5,398.5 575.3,398.7" fill="#aeafb1" stroke="#aeafb1"/>
<polygon points="597.3,415.0 598.7,414.8 577.9,398.3 576.5,398.5" fill="#b0b1b3" stroke="#b0b1b3"/>
<polygon points="598.7,414.8 600.0,415.0 579.2,398.5 577.9,398.3" fill="#b0b1b3" stroke="#b0b1b3"/>
<polygon points="600.0,415.0 601.2,415.5 580.5,399.0 579.2,398.5" fill="#b0b1b3" stroke="#b0b1b3"/>
<polygon points="601.2,415.5 602.7,416.7 581.9,400.2 580.5,399.0" fill="#b2b3b5" stroke="#b2b3b5"/>
<polygon points="602.7,416.7 604.5,418.7 583.7,402.2 581.9,400.2" fill="#b2b3b5" stroke="#b2b3b5"/>
<polygon points="604.5,418.7 606.4,421.0 585.6,404.5 583.7,402.2" fill="#b4b5b7" stroke="#b4b5b7"/>
<polygon points="606.4,421.0 608.4,423.4 587.6,406.9 585.6,404.5" fill="#b4b5b7" stroke="#b4b5b7"/>
<polygon points="608.4,423.4 610.0,425.5 589.2,409.0 587.6,406.9" fill="#b6b7b9" stroke="#b6b7b9"/>
<polygon points="645.0,478.8 646.1,479.6 625.3,463.1 624.2,462.2" fill="#b2b3b5" stroke="#b2b3b5"/>
<polygon points="646.1,479.6 647.4,480.3 626.6,463.8 625.3,463.1" fill="#b0b1b3" stroke="#b0b1b3"/>
<polygon points="647.4,480.3 648.7,480.8 627.9,464.3 626.6,463.8" fill="#b0b1b3" stroke="#b0b1b3"/>
<polygon points="648.7,480.8 650.0,481.2 629.2,464.7 627.9,464.3" fill="#aeafb1" stroke="#aeafb1"/>
<polygon points="650.0,481.2 651.2,481.2 630.5,464.8 629.2,464.7" fill="#aeafb1" stroke="#aeafb1"/>
<polygon points="651.2,481.2 652.6,481.0 631.8,464.5 630.5,464.8" fill="#acadaf" stroke="#acadaf"/>
<polygon points="652.6,481.0 654.4,480.4 633.6,463.9 631.8,464.5" fill="#acadaf" stroke="#acadaf"/>
<polygon points="654.4,480.4 656.4,479.6 635.6,463.1 633.6,463.9" fill="#aaabad" stroke="#aaabad"/>
<polygon points="656.4,479.6 658.3,478.7 637.5,462.2 635.6,463.1" fill="#a8a9ab" stroke="#a8a9ab"/>
<polygon points="658.3,478.7 660.0,478.0 639.2,461.5 637.5,462.2" fill="#a6a7a9" stroke="#a6a7a9"/>
<polygon points="660.0,478.0 661.9,477.3 641.1,460.8 639.2,461.5" fill="#a6a7a9" stroke="#a6a7a9"/>
<polygon points="661.9,477.3 664.3,476.4 643.5,459.9 641.1,460.8" fill="#a6a7a9" stroke="#a6a7a9"/>
<polygon points="664.3,476.4 666.9,475.4 646.1,458.9 643.5,459.9" fill="#a6a7a9" stroke="#a6a7a9"/>
<polygon points="666.9,475.4 669.3,474.2 648.5,457.7 646.1,458.9" fill="#a4a5a7" stroke="#a4a5a7"/>
<polygon points="669.3,474.2 671.2,473.0 650.5,456.5 648.5,457.7" fill="#a4a5a7" stroke="#a4a5a7"/>
<polygon points="671.2,473.0 673.0,471.1 652.2,454.6 650.5,456.5" fill="#a4a5a7" stroke="#a4a5a7"/>
<polygon points="673.0,471.1 675.1,468.5 654.3,452.0 652.2,454.6" fill="#a4a5a7" stroke="#a4a5a7"/>
<polygon points="675.1,468.5 677.2,465.6 656.4,449.1 654.3,452.0" fill="#a4a5a7" stroke="#a4a5a7"/>
<polygon points="677.2,465.6 679.3,463.0 658.5,446.5 656.4,449.1" fill="#a6a7a9" stroke="#a6a7a9"/>
<polygon points="679.3,463.0 681.2,461.2 660.5,444.8 658.5,446.5" fill="#a6a7a9" stroke="#a6a7a9"/>
<polygon points="681.2,461.2 683.5,460.2 662.7,443.7 660.5,444.8" fill="#a6a7a9" stroke="#a6a7a9"/>
<polygon points="683.5,460.2 686.3,459.5 665.5,443.0 662.7,443.7" fill="#a6a7a9" stroke="#a6a7a9"/>
<polygon points="686.3,459.5 689.5,458.9 668.7,442.4 665.5,443.0" fill="#a6a7a9" stroke="#a6a7a9"/>
<polygon points="689.5,458.9 692.5,458.4 671.7,441.9 668.7,442.4" fill="#a8a9ab" stroke="#a8a9ab"/>
<polygon points="692.5,458.4 695.0,458.0 674.2,441.5 671.7,441.9" fill="#a8a9ab" stroke="#a8a9ab"/>
<polygon points="695.0,458.0 697.7,457.5 676.9,441.0 674.2,441.5" fill="#aaabad" stroke="#aaabad"/>
<polygon points="697.7,457.5 701.0,456.9 680.2,440.4 676.9,441.0" fill="#acadaf" stroke="#acadaf"/>
<polygon points="701.0,456.9 704.5,456.4 683.7,439.9 680.2,440.4" fill="#aeafb1" stroke="#aeafb1"/>
<polygon points="704.5,456.4 707.7,456.1 686.9,439.6 683.7,439.9" fill="#b0b1b3" stroke="#b0b1b3"/>
<polygon points="707.7,456.1 710.0,456.2 689.2,439.8 686.9,439.6" fill="#b0b1b3" stroke="#b0b1b3"/>
<polygon points="710.0,456.2 711.7,457.1 690.9,440.6 689.2,439.8" fill="#b2b3b5" stroke="#b2b3b5"/>
<polygon points="711.7,457.1 713.3,458.5 692.5,442.0 690.9,440.6" fill="#b2b3b5" stroke="#b2b3b5"/>
<polygon points="713.3,458.5 714.9,460.2 694.1,443.7 692.5,442.0" fill="#b4b5b7" stroke="#b4b5b7"/>
<polygon points="714.9,460.2 716.3,462.1 695.5,445.6 694.1,443.7" fill="#b4b5b7" stroke="#b4b5b7"/>
<polygon points="716.3,462.1 717.5,463.8 696.7,447.2 695.5,445.6" fill="#b6b7b9" stroke="#b6b7b9"/>
<polygon points="717.5,463.8 718.8,465.7 698.0,449.2 696.7,447.2" fill="#b6b7b9" stroke="#b6b7b9"/>
<polygon points="733.8,492.7 735.5,494.0 714.7,477.5 713.0,476.2" fill="#b6b7b9" stroke="#b6b7b9"/>
<polygon points="735.5,494.0 737.2,495.1 716.4,478.6 714.7,477.5" fill="#b6b7b9" stroke="#b6b7b9"/>
<polygon points="737.2,495.1 738.7,496.3 717.9,479.8 716.4,478.6" fill="#b6b7b9" stroke="#b6b7b9"/>
<polygon points="750.8,515.2 752.5,516.2 731.7,499.8 730.0,498.7" fill="#b4b5b7" stroke="#b4b5b7"/>
<polygon points="752.5,516.2 755.0,517.0 734.2,500.5 731.7,499.8" fill="#b4b5b7" stroke="#b4b5b7"/>
<polygon points="755.0,517.0 758.7,517.6 737.9,501.1 734.2,500.5" fill="#b4b5b7" stroke="#b4b5b7"/>
<polygon points="758.7,517.6 762.8,518.2 742.0,501.7 737.9,501.1" fill="#b2b3b5" stroke="#b2b3b5"/>
<polygon points="762.8,518.2 766.8,518.8 746.0,502.3 742.0,501.7" fill="#b2b3b5" stroke="#b2b3b5"/>
<polygon points="766.8,518.8 770.0,519.5 749.2,503.0 746.0,502.3" fill="#b2b3b5" stroke="#b2b3b5"/>
<polygon points="770.0,519.5 773.2,520.7 752.4,504.2 749.2,503.0" fill="#b0b1b3" stroke="#b0b1b3"/>
<polygon points="773.2,520.7 777.0,522.3 756.2,505.8 752.4,504.2" fill="#b0b1b3" stroke="#b0b1b3"/>
<polygon points="777.0,522.3 781.0,524.1 760.2,507.6 756.2,505.8" fill="#b0b1b3" stroke="#b0b1b3"/>
<polygon points="781.0,524.1 784.6,525.8 763.8,509.3 760.2,507.6" fill="#aeafb1" stroke="#aeafb1"/>
<polygon points="784.6,525.8 787.5,527.0 766.7,510.5 763.8,509.3" fill="#aeafb1" stroke="#aeafb1"/>
<polygon points="787.5,527.0 790.0,527.9 769.2,511.4 766.7,510.5" fill="#aeafb1" stroke="#aeafb1"/>
<polygon points="790.0,527.9 792.7,528.9 771.9,512.4 769.2,511.4" fill="#aeafb1" stroke="#aeafb1"/>
<polygon points="792.7,528.9 795.5,529.8 774.7,513.3 771.9,512.4" fill="#aeafb1" stroke="#aeafb1"/>
<polygon points="795.5,529.8 798.0,530.6 777.2,514.1 774.7,513.3" fill="#aeafb1" stroke="#aeafb1"/>
<polygon points="798.0,530.6 800.0,531.2 779.2,514.8 777.2,514.1" fill="#aeafb1" stroke="#aeafb1"/>
<polygon points="800.0,531.2 801.8,531.8 781.0,515.3 779.2,514.8" fill="#aeafb1" stroke="#aeafb1"/>
<polygon points="801.8,531.8 803.9,532.5 783.1,516.0 781.0,515.3" fill="#acadaf" stroke="#acadaf"/>
<polygon points="803.9,532.5 806.0,533.1 785.2,516.6 783.1,516.0" fill="#acadaf" stroke="#acadaf"/>
<polygon points="806.0,533.1 808.1,533.5 787.3,517.0 785.2,516.6" fill="#aaabad" stroke="#aaabad"/>
<polygon points="808.1,533.5 810.0,533.8 789.2,517.2 787.3,517.0" fill="#aaabad" stroke="#aaabad"/>
<polygon points="810.0,533.8 812.4,533.7 791.6,517.2 789.2,517.2" fill="#a8a9ab" stroke="#a8a9ab"/>
<polygon points="812.4,533.7 815.5,533.5 794.7,517.0 791.6,517.2" fill="#a8a9ab" stroke="#a8a9ab"/>
<polygon points="815.5,533.5 818.8,533.2 798.0,516.7 794.7,517.0" fill="#a6a7a9" stroke="#a6a7a9"/>
<polygon points="818.8,533.2 821.7,532.7 800.9,516.2 798.0,516.7" fill="#a6a7a9" stroke="#a6a7a9"/>
<polygon points="821.7,532.7 823.8,532.0 803.0,515.5 800.9,516.2" fill="#a4a5a7" stroke="#a4a5a7"/>
<polygon points="823.8,532.0 825.0,531.0 804.2,514.5 803.0,515.5" fill="#a2a3a5" stroke="#a2a3a5"/>
<polygon points="825.0,531.0 826.1,529.4 805.3,512.9 804.2,514.5" fill="#a2a3a5" stroke="#a2a3a5"/>
<polygon points="826.1,529.4 827.1,527.6 806.3,511.1 805.3,512.9" fill="#a0a1a3" stroke="#a0a1a3"/>
<polygon points="827.1,527.6 827.9,525.7 807.1,509.2 806.3,511.1" fill="#a0a1a3" stroke="#a0a1a3"/>
<polygon points="827.9,525.7 828.8,523.8 808.0,507.2 807.1,509.2" fill="#a0a1a3" stroke="#a0a1a3"/>
<polygon points="828.8,523.8 829.8,521.1 809.0,504.6 808.0,507.2" fill="#a0a1a3" stroke="#a0a1a3"/>
<polygon points="829.8,521.1 831.2,517.5 810.4,501.0 809.0,504.6" fill="#a0a1a3" stroke="#a0a1a3"/>
<polygon points="831.2,517.5 832.7,513.5 811.9,497.0 810.4,501.0" fill="#a0a1a3" stroke="#a0a1a3"/>
<polygon points="832.7,513.5 834.0,510.0 813.2,493.5 811.9,497.0" fill="#a0a1a3" stroke="#a0a1a3"/>
<polygon points="834.0,510.0 835.0,507.5 814.2,491.0 813.2,493.5" fill="#a0a1a3" stroke="#a0a1a3"/>
<polygon points="835.0,507.5 835.7,505.9 814.9,489.4 814.2,491.0" fill="#a0a1a3" stroke="#a0a1a3"/>
<polygon points="835.7,505.9 836.4,504.5 815.6,488.0 814.9,489.4" fill="#a0a1a3" stroke="#a0a1a3"/>
<polygon points="836.4,504.5 837.0,503.3 816.2,486.8 815.6,488.0" fill="#a0a1a3" stroke="#a0a1a3"/>
<polygon points="837.0,503.3 837.5,502.3 816.7,485.8 816.2,486.8" fill="#a0a1a3" stroke="#a0a1a3"/>
<polygon points="837.5,502.3 838.0,501.5 817.2,485.0 816.7,485.8" fill="#a0a1a3" stroke="#a0a1a3"/>
<polygon points="838.0,501.5 838.5,500.6 817.7,484.1 817.2,485.0" fill="#a0a1a3" stroke="#a0a1a3"/>
<polygon points="838.5,500.6 839.0,499.7 818.2,483.2 817.7,484.1" fill="#a2a3a5" stroke="#a2a3a5"/>
<polygon points="839.0,499.7 839.6,498.8 818.8,482.3 818.2,483.2" fill="#a2a3a5" stroke="#a2a3a5"/>
<polygon points="839.6,498.8 840.2,498.0 819.4,481.5 818.8,482.3" fill="#a4a5a7" stroke="#a4a5a7"/>
<polygon points="840.2,498.0 840.7,497.6 819.9,481.1 819.4,481.5" fill="#a4a5a7" stroke="#a4a5a7"/>
<polygon points="840.7,497.6 841.2,497.5 820.4,481.0 819.9,481.1" fill="#a6a7a9" stroke="#a6a7a9"/>
<polygon points="841.2,497.5 841.8,497.7 821.0,481.2 820.4,481.0" fill="#a6a7a9" stroke="#a6a7a9"/>
<polygon points="841.8,497.7 842.5,498.0 821.7,481.5 821.0,481.2" fill="#a6a7a9" stroke="#a6a7a9"/>
<polygon points="842.5,498.0 843.2,498.3 822.4,481.8 821.7,481.5" fill="#a8a9ab" stroke="#a8a9ab"/>
<polygon points="843.2,498.3 844.0,498.6 823.2,482.1 822.4,481.8" fill="#a8a9ab" stroke="#a8a9ab"/>
<polygon points="844.0,498.6 845.0,499.0 824.2,482.5 823.2,482.1" fill="#a8a9ab" stroke="#a8a9ab"/>
<polygon points="845.0,499.0 846.4,499.5 825.6,483.0 824.2,482.5" fill="#aaabad" stroke="#aaabad"/>
<polygon points="846.4,499.5 847.9,500.0 827.1,483.5 825.6,483.0" fill="#aaabad" stroke="#aaabad"/>
<polygon points="847.9,500.0 849.4,500.4 828.6,483.9 827.1,483.5" fill="#aaabad" stroke="#aaabad"/>
<polygon points="849.4,500.4 850.7,500.6 829.9,484.1 828.6,483.9" fill="#aaabad" stroke="#aaabad"/>
<polygon points="850.7,500.6 852.0,500.4 831.2,483.9 829.9,484.1" fill="#a8a9ab" stroke="#a8a9ab"/>
<polygon points="852.0,500.4 853.7,500.0 832.9,483.5 831.2,483.9" fill="#a8a9ab" stroke="#a8a9ab"/>
<polygon points="853.7,500.0 855.4,499.4 834.6,482.9 832.9,483.5" fill="#a6a7a9" stroke="#a6a7a9"/>
<polygon points="855.4,499.4 857.0,498.8 836.2,482.3 834.6,482.9" fill="#a6a7a9" stroke="#a6a7a9"/>
<polygon points="857.0,498.8 858.2,498.2 837.4,481.7 836.2,482.3" fill="#a4a5a7" stroke="#a4a5a7"/>
<polygon points="858.2,498.2 859.2,497.4 838.4,480.9 837.4,481.7" fill="#a4a5a7" stroke="#a4a5a7"/>
<polygon points="859.2,497.4 860.2,496.4 839.4,479.9 838.4,480.9" fill="#a4a5a7" stroke="#a4a5a7"/>
<polygon points="860.2,496.4 861.2,495.2 840.4,478.7 839.4,479.9" fill="#a4a5a7" stroke="#a4a5a7"/>
<polygon points="861.2,495.2 862.1,494.0 841.3,477.5 840.4,478.7" fill="#a4a5a7" stroke="#a4a5a7"/>
<polygon points="862.1,494.0 863.0,493.0 842.2,476.5 841.3,477.5" fill="#a4a5a7" stroke="#a4a5a7"/>
<polygon points="863.0,493.0 863.9,491.8 843.1,475.3 842.2,476.5" fill="#a4a5a7" stroke="#a4a5a7"/>
<polygon points="863.9,491.8 864.9,490.2 844.1,473.7 843.1,475.3" fill="#a4a5a7" stroke="#a4a5a7"/>
<polygon points="864.9,490.2 866.0,488.6 845.2,472.1 844.1,473.7" fill="#a4a5a7" stroke="#a4a5a7"/>
<polygon points="866.0,488.6 867.2,487.1 846.4,470.6 845.2,472.1" fill="#a6a7a9" stroke="#a6a7a9"/>
<polygon points="867.2,487.1 868.5,486.2 847.7,469.7 846.4,470.6" fill="#a6a7a9" stroke="#a6a7a9"/>
<polygon points="868.5,486.2 870.3,485.7 849.5,469.2 847.7,469.7" fill="#a8a9ab" stroke="#a8a9ab"/>
<polygon points="870.3,485.7 872.9,485.4 852.1,468.9 849.5,469.2" fill="#aaabad" stroke="#aaabad"/>
<polygon points="872.9,485.4 875.7,485.2 854.9,468.7 852.1,468.9" fill="#acadaf" stroke="#acadaf"/>
<polygon points="875.7,485.2 878.2,485.3 857.4,468.8 854.9,468.7" fill="#acadaf" stroke="#acadaf"/>
<polygon points="878.2,485.3 880.0,485.6 859.2,469.1 857.4,468.8" fill="#aeafb1" stroke="#aeafb1"/>
<polygon points="880.0,485.6 881.2,486.5 860.4,470.0 859.2,469.1" fill="#b0b1b3" stroke="#b0b1b3"/>
<polygon points="881.2,486.5 882.3,487.9 861.5,471.4 860.4,470.0" fill="#b0b1b3" stroke="#b0b1b3"/>
<polygon points="882.3,487.9 883.3,489.6 862.5,473.1 861.5,471.4" fill="#b2b3b5" stroke="#b2b3b5"/>
<polygon points="883.3,489.6 884.2,491.2 863.4,474.7 862.5,473.1" fill="#b2b3b5" stroke="#b2b3b5"/>
<polygon points="884.2,491.2 885.0,492.5 864.2,476.0 863.4,474.7" fill="#b2b3b5" stroke="#b2b3b5"/>
<polygon points="888.9,498.4 890.0,499.2 869.2,482.8 868.1,481.9" fill="#b2b3b5" stroke="#b2b3b5"/>
<polygon points="890.0,499.2 891.5,499.6 870.7,483.1 869.2,482.8" fill="#b2b3b5" stroke="#b2b3b5"/>
<polygon points="891.5,499.6 893.5,499.5 872.7,483.0 870.7,483.1" fill="#b2b3b5" stroke="#b2b3b5"/>
<polygon points="893.5,499.5 895.8,499.4 875.0,482.9 872.7,483.0" fill="#b2b3b5" stroke="#b2b3b5"/>
<polygon points="895.8,499.4 898.0,499.2 877.2,482.7 875.0,482.9" fill="#b2b3b5" stroke="#b2b3b5"/>
<polygon points="898.0,499.2 900.0,499.2 879.2,482.8 877.2,482.7" fill="#b2b3b5" stroke="#b2b3b5"/>
<polygon points="900.0,499.2 902.1,499.4 881.3,482.9 879.2,482.8" fill="#b2b3b5" stroke="#b2b3b5"/>
<polygon points="902.1,499.4 904.8,499.6 884.0,483.1 881.3,482.9" fill="#b0b1b3" stroke="#b0b1b3"/>
<polygon points="904.8,499.6 907.7,500.0 886.9,483.5 884.0,483.1" fill="#b0b1b3" stroke="#b0b1b3"/>
<polygon points="907.7,500.0 910.4,500.5 889.6,484.0 886.9,483.5" fill="#b0b1b3" stroke="#b0b1b3"/>
<polygon points="910.4,500.5 912.5,501.2 891.7,484.8 889.6,484.0" fill="#b0b1b3" stroke="#b0b1b3"/>
<polygon points="912.5,501.2 914.4,502.7 893.6,486.2 891.7,484.8" fill="#b0b1b3" stroke="#b0b1b3"/>
<polygon points="914.4,502.7 916.5,504.8 895.7,488.3 893.6,486.2" fill="#b2b3b5" stroke="#b2b3b5"/>
<polygon points="916.5,504.8 918.7,507.2 897.9,490.7 895.7,488.3" fill="#b2b3b5" stroke="#b2b3b5"/>
<polygon points="918.7,507.2 920.8,509.5 900.0,493.0 897.9,490.7" fill="#b2b3b5" stroke="#b2b3b5"/>
<polygon points="920.8,509.5 922.5,511.2 901.7,494.8 900.0,493.0" fill="#b2b3b5" stroke="#b2b3b5"/>
<polygon points="922.5,511.2 924.3,512.8 903.5,496.3 901.7,494.8" fill="#b4b5b7" stroke="#b4b5b7"/>
<polygon points="924.3,512.8 926.4,514.5 905.6,498.0 903.5,496.3" fill="#b4b5b7" stroke="#b4b5b7"/>
<polygon points="926.4,514.5 928.6,516.3 907.8,499.8 905.6,498.0" fill="#b4b5b7" stroke="#b4b5b7"/>
<polygon points="928.6,516.3 930.7,518.0 909.9,501.5 907.8,499.8" fill="#b4b5b7" stroke="#b4b5b7"/>
<polygon points="930.7,518.0 932.5,519.5 911.7,503.0 909.9,501.5" fill="#b4b5b7" stroke="#b4b5b7"/>
<polygon points="936.4,523.2 938.7,525.3 917.9,508.8 915.6,506.7" fill="#b2b3b5" stroke="#b2b3b5"/>
<polygon points="938.7,525.3 940.8,527.3 920.0,510.8 917.9,508.8" fill="#b2b3b5" stroke="#b2b3b5"/>
<polygon points="940.8,527.3 942.5,528.8 921.7,512.2 920.0,510.8" fill="#b0b1b3" stroke="#b0b1b3"/>
<polygon points="942.5,528.8 944.1,530.1 923.3,513.6 921.7,512.2" fill="#b0b1b3" stroke="#b0b1b3"/>
<polygon points="944.1,530.1 945.9,531.5 925.1,515.0 923.3,513.6" fill="#b0b1b3" stroke="#b0b1b3"/>
<polygon points="945.9,531.5 947.8,533.0 927.0,516.5 925.1,515.0" fill="#b0b1b3" stroke="#b0b1b3"/>
<polygon points="947.8,533.0 949.7,534.0 928.9,517.5 927.0,516.5" fill="#b0b1b3" stroke="#b0b1b3"/>
<polygon points="949.7,534.0 951.2,534.5 930.5,518.0 928.9,517.5" fill="#aeafb1" stroke="#aeafb1"/>
<polygon points="951.2,534.5 953.0,534.1 932.2,517.6 930.5,518.0" fill="#aeafb1" stroke="#aeafb1"/>
<polygon points="953.0,534.1 955.2,533.1 934.4,516.6 932.2,517.6" fill="#aeafb1" stroke="#aeafb1"/>
<polygon points="955.2,533.1 957.5,531.8 936.7,515.3 934.4,516.6" fill="#aeafb1" stroke="#aeafb1"/>
<polygon points="957.5,531.8 959.6,530.6 938.8,514.1 936.7,515.3" fill="#aeafb1" stroke="#aeafb1"/>
<polygon points="959.6,530.6 961.2,530.0 940.5,513.5 938.8,514.1" fill="#aeafb1" stroke="#aeafb1"/>
<polygon points="961.2,530.0 962.7,530.0 941.9,513.5 940.5,513.5" fill="#aeafb1" stroke="#aeafb1"/>
<polygon points="962.7,530.0 964.3,530.3 943.5,513.8 941.9,513.5" fill="#aeafb1" stroke="#aeafb1"/>
<polygon points="964.3,530.3 966.0,530.8 945.2,514.3 943.5,513.8" fill="#aeafb1" stroke="#aeafb1"/>
<polygon points="966.0,530.8 967.5,531.4 946.7,514.9 945.2,514.3" fill="#aeafb1" stroke="#aeafb1"/>
<polygon points="967.5,531.4 968.8,532.0 948.0,515.5 946.7,514.9" fill="#aeafb1" stroke="#aeafb1"/>
<polygon points="968.8,532.0 969.9,532.7 949.1,516.2 948.0,515.5" fill="#aeafb1" stroke="#aeafb1"/>
<polygon points="969.9,532.7 971.2,533.7 950.4,517.2 949.1,516.2" fill="#b0b1b3" stroke="#b0b1b3"/>
<polygon points="971.2,533.7 972.5,534.9 951.7,518.4 950.4,517.2" fill="#b0b1b3" stroke="#b0b1b3"/>
<polygon points="972.5,534.9 973.8,536.0 953.0,519.5 951.7,518.4" fill="#b0b1b3" stroke="#b0b1b3"/>
<polygon points="973.8,536.0 975.0,537.0 954.2,520.5 953.0,519.5" fill="#b0b1b3" stroke="#b0b1b3"/>
<polygon points="975.0,537.0 976.4,538.1 955.6,521.6 954.2,520.5" fill="#b0b1b3" stroke="#b0b1b3"/>
<polygon points="976.4,538.1 978.2,539.4 957.4,522.9 955.6,521.6" fill="#b0b1b3" stroke="#b0b1b3"/>
<polygon points="978.2,539.4 980.1,540.9 959.3,524.4 957.4,522.9" fill="#b0b1b3" stroke="#b0b1b3"/>
<polygon points="980.1,540.9 982.0,542.1 961.2,525.6 959.3,524.4" fill="#b0b1b3" stroke="#b0b1b3"/>
<polygon points="982.0,542.1 983.8,543.0 963.0,526.5 961.2,525.6" fill="#b0b1b3" stroke="#b0b1b3"/>
<polygon points="983.8,543.0 985.6,543.6 964.8,527.1 963.0,526.5" fill="#b0b1b3" stroke="#b0b1b3"/>
<polygon points="985.6,543.6 987.8,544.0 967.0,527.5 964.8,527.1" fill="#b0b1b3" stroke="#b0b1b3"/>
<polygon points="987.8,544.0 990.3,544.4 969.5,527.9 967.0,527.5" fill="#aeafb1" stroke="#aeafb1"/>
<polygon points="990.3,544.4 992.8,544.7 972.0,528.2 969.5,527.9" fill="#aeafb1" stroke="#aeafb1"/>
<polygon points="992.8,544.7 995.0,545.0 974.2,528.5 972.0,528.2" fill="#aeafb1" stroke="#aeafb1"/>
<polygon points="995.0,545.0 997.4,545.3 976.6,528.8 974.2,528.5" fill="#aeafb1" stroke="#aeafb1"/>
<polygon points="997.4,545.3 1000.4,545.7 979.6,529.2 976.6,528.8" fill="#aeafb1" stroke="#aeafb1"/>
<polygon points="1000.4,545.7 1003.8,546.1 983.0,529.6 979.6,529.2" fill="#acadaf" stroke="#acadaf"/>
<polygon points="1003.8,546.1 1007.1,546.4 986.3,529.9 983.0,529.6" fill="#acadaf" stroke="#acadaf"/>
<polygon points="1007.1,546.4 1010.0,546.8 989.2,530.2 986.3,529.9" fill="#acadaf" stroke="#acadaf"/>
<polygon points="1010.0,546.8 1013.4,547.1 992.6,530.6 989.2,530.2" fill="#acadaf" stroke="#acadaf"/>
<polygon points="1013.4,547.1 1017.7,547.5 996.9,531.0 992.6,530.6" fill="#acadaf" stroke="#acadaf"/>
<polygon points="1017.7,547.5 1022.3,548.0 1001.5,531.5 996.9,531.0" fill="#acadaf" stroke="#acadaf"/>
<polygon points="1022.3,548.0 1026.6,548.4 1005.8,531.9 1001.5,531.5" fill="#acadaf" stroke="#acadaf"/>
<polygon points="1026.6,548.4 1030.0,548.8 1009.2,532.2 1005.8,531.9" fill="#acadaf" stroke="#acadaf"/>
<polygon points="1030.0,548.8 1033.0,549.0 1012.2,532.5 1009.2,532.2" fill="#acadaf" stroke="#acadaf"/>
<polygon points="1033.0,549.0 1036.4,549.3 1015.6,532.8 1012.2,532.5" fill="#acadaf" stroke="#acadaf"/>
<polygon points="1036.4,549.3 1039.8,549.5 1019.0,533.0 1015.6,532.8" fill="#acadaf" stroke="#acadaf"/>
<polygon points="1039.8,549.5 1042.8,549.8 1022.0,533.3 1019.0,533.0" fill="#acadaf" stroke="#acadaf"/>
<polygon points="1042.8,549.8 1045.0,550.0 1024.2,533.5 1022.0,533.3" fill="#acadaf" stroke="#acadaf"/>
<polygon points="1045.0,550.0 1046.6,550.2 1025.8,533.7 1024.2,533.5" fill="#acadaf" stroke="#acadaf"/>
<polygon points="1046.6,550.2 1048.0,550.4 1027.2,533.9 1025.8,533.7" fill="#acadaf" stroke="#acadaf"/>
<polygon points="1048.0,550.4 1049.3,550.6 1028.5,534.1 1027.2,533.9" fill="#acadaf" stroke="#acadaf"/>
<polygon points="1049.3,550.6 1050.8,550.9 1030.0,534.4 1028.5,534.1" fill="#acadaf" stroke="#acadaf"/>
<polygon points="1050.8,550.9 1052.5,551.2 1031.7,534.8 1030.0,534.4" fill="#acadaf" stroke="#acadaf"/>
<polygon points="1052.5,551.2 1055.1,551.8 1034.3,535.3 1031.7,534.8" fill="#acadaf" stroke="#acadaf"/>
<polygon points="1055.1,551.8 1058.7,552.6 1037.9,536.1 1034.3,535.3" fill="#acadaf" stroke="#acadaf"/>
<polygon points="1058.7,552.6 1062.7,553.5 1041.9,537.0 1037.9,536.1" fill="#aeafb1" stroke="#aeafb1"/>
<polygon points="1062.7,553.5 1066.7,554.3 1045.9,537.8 1041.9,537.0" fill="#aeafb1" stroke="#aeafb1"/>
<polygon points="1066.7,554.3 1070.0,555.0 1049.2,538.5 1045.9,537.8" fill="#aeafb1" stroke="#aeafb1"/>
<polygon points="1070.0,555.0 1073.5,555.7 1052.7,539.2 1049.2,538.5" fill="#aeafb1" stroke="#aeafb1"/>
<polygon points="1073.5,555.7 1077.9,556.5 1057.1,540.0 1052.7,539.2" fill="#aeafb1" stroke="#aeafb1"/>
<polygon points="1077.9,556.5 1082.5,557.4 1061.7,540.9 1057.1,540.0" fill="#acadaf" stroke="#acadaf"/>
<polygon points="1082.5,557.4 1086.7,558.1 1065.9,541.6 1061.7,540.9" fill="#acadaf" stroke="#acadaf"/>
<polygon points="1086.7,558.1 1090.0,558.8 1069.2,542.2 1065.9,541.6" fill="#acadaf" stroke="#acadaf"/>
<polygon points="1090.0,558.8 1092.5,559.3 1071.7,542.8 1069.2,542.2" fill="#acadaf" stroke="#acadaf"/>
<polygon points="1092.5,559.3 1095.0,559.9 1074.2,543.4 1071.7,542.8" fill="#acadaf" stroke="#acadaf"/>
<polygon points="1095.0,559.9 1097.7,560.5 1076.9,544.0 1074.2,543.4" fill="#acadaf" stroke="#acadaf"/>
<polygon points="1097.7,560.5 1100.5,560.9 1079.7,544.4 1076.9,544.0" fill="#acadaf" stroke="#acadaf"/>
<polygon points="1100.5,560.9 1103.8,561.2 1083.0,544.8 1079.7,544.4" fill="#acadaf" stroke="#acadaf"/>
<polygon points="1103.8,561.2 1108.3,561.4 1087.5,544.9 1083.0,544.8" fill="#acadaf" stroke="#acadaf"/>
<polygon points="1108.3,561.4 1114.4,561.4 1093.6,544.9 1087.5,544.9" fill="#acadaf" stroke="#acadaf"/>
<polygon points="1114.4,561.4 1121.5,561.4 1100.7,544.9 1093.6,544.9" fill="#acadaf" stroke="#acadaf"/>
<polygon points="1121.5,561.4 1128.6,561.3 1107.8,544.8 1100.7,544.9" fill="#acadaf" stroke="#acadaf"/>
<polygon points="1128.6,561.3 1135.0,561.2 1114.2,544.8 1107.8,544.8" fill="#acadaf" stroke="#acadaf"/>
<polygon points="1135.0,561.2 1142.6,561.2 1121.8,544.7 1114.2,544.8" fill="#acadaf" stroke="#acadaf"/>
<polygon points="1142.6,561.2 1152.6,561.0 1131.8,544.5 1121.8,544.7" fill="#acadaf" stroke="#acadaf"/>
<polygon points="1152.6,561.0 1163.3,560.8 1142.5,544.3 1131.8,544.5" fill="#acadaf" stroke="#acadaf"/>
<polygon points="1163.3,560.8 1173.0,560.6 1152.2,544.1 1142.5,544.3" fill="#aaabad" stroke="#aaabad"/>
<polygon points="1173.0,560.6 1180.0,560.5 1159.2,544.0 1152.2,544.1" fill="#aaabad" stroke="#aaabad"/>
<polygon points="1180.0,560.5 1185.1,560.4 1164.3,543.9 1159.2,544.0" fill="#aaabad" stroke="#aaabad"/>
<polygon points="1185.1,560.4 1190.2,560.3 1169.4,543.8 1164.3,543.9" fill="#aaabad" stroke="#aaabad"/>
<polygon points="1190.2,560.3 1194.9,560.2 1174.1,543.7 1169.4,543.8" fill="#aaabad" stroke="#aaabad"/>
<polygon points="1194.9,560.2 1198.6,560.1 1177.8,543.6 1174.1,543.7" fill="#aaabad" stroke="#aaabad"/>
<polygon points="1198.6,560.1 1201.0,560.0 1180.2,543.5 1177.8,543.6" fill="#aaabad" stroke="#aaabad"/>
</g>
<g fill="none" stroke="#161616" stroke-width="4.2" stroke-linejoin="round" stroke-linecap="round">
<polyline points="81.8,498.7 83.3,498.8 85.6,499.0 88.4,499.1 91.0,499.1 93.2,498.9 95.2,498.1 97.6,496.7 100.0,495.2 102.4,493.9 104.5,493.3 106.7,493.6 109.4,494.6 112.3,495.8 115.0,496.9 117.0,497.4 118.8,497.2 120.7,496.7 122.6,495.9 124.4,495.1 125.8,494.5 127.1,493.9 128.7,493.1 130.2,492.3 131.6,491.5 132.7,490.8 133.6,490.1 134.5,489.4 135.4,488.5 136.3,487.5 137.1,486.4 138.0,484.8 139.0,482.4 140.2,479.8 141.3,477.2 142.2,475.1 143.1,472.9 144.2,470.2 145.3,467.3 146.4,464.6 147.2,462.5 148.0,460.5 148.9,458.3 149.8,456.0 150.6,454.0 151.2,452.5 151.7,451.4 152.2,450.3 152.7,449.3 153.2,448.4 153.5,447.8 153.8,447.3 154.1,446.9 154.5,446.5 154.8,446.1 155.0,445.9 155.2,445.7 155.5,445.6 155.7,445.4 156.0,445.3 156.2,445.3 156.4,445.3 156.7,445.4 156.9,445.6 157.2,445.7"/>
<polyline points="188.6,487.6 189.6,488.2 190.7,488.9 191.8,489.7 192.8,490.6 193.7,491.4 194.6,492.5 195.6,493.9 196.7,495.5 197.8,497.0"/>
<polyline points="209.2,505.2 209.7,505.0 210.1,504.7 210.5,504.4 211.0,504.0 211.7,503.5 212.8,502.7 214.4,501.5 216.2,500.1 217.9,498.7 219.2,497.2 220.4,495.5 221.7,493.1 223.1,490.5 224.4,488.0 225.4,486.0 226.5,484.1 227.8,481.9 229.2,479.6 230.5,477.5 231.7,476.0 232.9,474.9 234.3,473.8 235.8,472.7 237.5,471.8 239.2,471.0 241.6,470.2 245.0,469.2 248.6,468.2 251.9,467.2 254.2,466.5 255.5,466.0 256.6,465.4 257.5,464.9 258.3,464.1 259.2,463.0 260.4,461.1 262.0,458.3 263.7,455.1 265.4,452.1 266.7,449.8 268.0,447.5 269.5,444.8 271.1,442.0 272.5,439.8 273.7,438.5 274.7,438.3 275.8,438.7 277.0,439.5 278.1,440.5 279.2,441.5 280.4,442.7 282.0,444.5 283.7,446.5 285.3,448.4 286.7,449.8 288.0,450.7 289.6,451.6 291.3,452.6 292.9,453.6 294.2,454.8 295.5,456.5 297.2,458.9 298.9,461.5 300.4,464.1 301.7,466.0 302.9,467.7 304.2,469.7 305.6,471.6 306.9,473.4 307.9,474.8 309.0,475.8 310.3,476.9 311.7,478.0 313.0,478.9 314.2,479.8 315.5,480.6 317.1,481.7 318.9,482.8 320.5,483.7 321.7,484.2 322.7,484.4 323.8,484.4 324.8,484.2 325.8,483.9 326.7,483.5 327.6,482.9 328.6,482.0 329.6,480.9 330.7,479.7 331.7,478.5 332.9,476.7 334.5,474.2 336.2,471.4 337.8,468.9 339.2,467.2 340.5,466.4 342.0,465.7 343.6,465.3 345.2,465.0 346.7,464.8 348.5,464.7 351.0,464.9 353.6,465.1 356.0,465.1 357.9,464.8 359.6,463.6 361.5,461.7 363.5,459.5 365.2,457.5 366.7,456.0 368.1,454.9 369.7,453.9 371.4,452.8 372.9,451.9 374.2,451.0 375.4,450.0 376.8,448.6 378.2,447.3 379.5,446.1 380.4,445.5 381.2,445.4 381.9,445.6 382.6,446.0 383.4,446.6 384.2,447.2 385.4,448.3 387.0,450.0 388.8,451.8 390.4,453.5 391.7,454.8 392.7,455.6 393.7,456.5 394.8,457.4 395.8,458.1 396.7,458.5 397.7,458.8 399.0,458.9 400.4,459.0 401.8,458.8 402.9,458.5 404.2,457.8 405.7,456.6 407.4,455.2 409.0,453.7 410.4,452.2 412.0,450.5 413.8,448.2 415.8,445.6 417.7,443.1 419.2,441.0 420.6,438.9 422.3,436.4 424.0,433.7 425.5,431.4 426.7,429.8 427.7,428.7 428.7,427.7 429.7,426.9 430.7,426.3 431.7,426.0 432.9,426.2 434.4,426.7 436.1,427.4 437.7,427.9 439.2,428.0 440.8,427.5 442.9,426.6 445.2,425.5 447.4,424.4 449.2,423.5 450.9,422.7 453.0,421.8 455.2,420.9 457.3,420.0 459.2,419.2 461.4,418.4 464.1,417.5 467.1,416.4 469.7,415.5 471.7,414.8 473.2,414.1 474.8,413.3 476.3,412.6 477.6,412.0 478.7,411.8 479.7,411.9 480.9,412.4 482.1,413.1 483.2,413.8 484.2,414.2 485.3,414.7 486.6,415.3 488.1,415.8 489.4,416.1 490.4,416.0 491.4,415.3 492.4,414.1 493.5,412.7 494.5,411.1 495.4,409.8 496.5,408.1 497.7,405.9 499.1,403.5 500.3,401.4 501.2,399.8 501.8,398.5 502.4,397.1 502.9,395.8 503.5,394.7 504.2,394.0 505.2,393.6 506.7,393.4 508.3,393.2 510.1,393.1 511.7,392.8 513.7,392.2 516.3,391.4 519.2,390.5 521.9,389.5 524.2,388.5 526.5,387.1 529.2,385.2 532.1,383.0 534.7,381.1 536.7,379.8 538.3,378.8 539.9,377.9 541.5,377.0 543.0,376.4 544.2,376.0 545.4,375.8 546.7,375.6 548.1,375.7 549.4,375.9 550.5,376.5"/>
<polyline points="574.2,399.0 575.3,398.7 576.5,398.5 577.9,398.3 579.2,398.5 580.5,399.0"/>
<polyline points="633.6,463.9 635.6,463.1 637.5,462.2 639.2,461.5 641.1,460.8 643.5,459.9 646.1,458.9 648.5,457.7 650.5,456.5 652.2,454.6 654.3,452.0 656.4,449.1 658.5,446.5 660.5,444.8 662.7,443.7 665.5,443.0 668.7,442.4 671.7,441.9 674.2,441.5 676.9,441.0 680.2,440.4 683.7,439.9 686.9,439.6 689.2,439.8 690.9,440.6"/>
<polyline points="742.0,501.7 746.0,502.3 749.2,503.0 752.4,504.2 756.2,505.8 760.2,507.6 763.8,509.3 766.7,510.5 769.2,511.4 771.9,512.4 774.7,513.3 777.2,514.1 779.2,514.8 781.0,515.3 783.1,516.0 785.2,516.6 787.3,517.0 789.2,517.2 791.6,517.2 794.7,517.0 798.0,516.7 800.9,516.2 803.0,515.5 804.2,514.5 805.3,512.9 806.3,511.1 807.1,509.2 808.0,507.2 809.0,504.6 810.4,501.0 811.9,497.0 813.2,493.5 814.2,491.0 814.9,489.4 815.6,488.0 816.2,486.8 816.7,485.8 817.2,485.0 817.7,484.1 818.2,483.2 818.8,482.3 819.4,481.5 819.9,481.1 820.4,481.0 821.0,481.2 821.7,481.5 822.4,481.8 823.2,482.1 824.2,482.5 825.6,483.0 827.1,483.5 828.6,483.9 829.9,484.1 831.2,483.9 832.9,483.5 834.6,482.9 836.2,482.3 837.4,481.7 838.4,480.9 839.4,479.9 840.4,478.7 841.3,477.5 842.2,476.5 843.1,475.3 844.1,473.7 845.2,472.1 846.4,470.6 847.7,469.7 849.5,469.2 852.1,468.9 854.9,468.7 857.4,468.8 859.2,469.1 860.4,470.0"/>
<polyline points="875.0,482.9 877.2,482.7 879.2,482.8 881.3,482.9 884.0,483.1 886.9,483.5 889.6,484.0 891.7,484.8 893.6,486.2 895.7,488.3 897.9,490.7 900.0,493.0 901.7,494.8 903.5,496.3 905.6,498.0 907.8,499.8 909.9,501.5 911.7,503.0 913.5,504.6 915.6,506.7 917.9,508.8 920.0,510.8 921.7,512.2 923.3,513.6 925.1,515.0 927.0,516.5 928.9,517.5 930.5,518.0 932.2,517.6 934.4,516.6 936.7,515.3 938.8,514.1 940.5,513.5 941.9,513.5 943.5,513.8 945.2,514.3 946.7,514.9 948.0,515.5 949.1,516.2 950.4,517.2 951.7,518.4 953.0,519.5 954.2,520.5 955.6,521.6 957.4,522.9 959.3,524.4 961.2,525.6 963.0,526.5 964.8,527.1 967.0,527.5 969.5,527.9 972.0,528.2 974.2,528.5 976.6,528.8 979.6,529.2 983.0,529.6 986.3,529.9 989.2,530.2 992.6,530.6 996.9,531.0 1001.5,531.5 1005.8,531.9 1009.2,532.2 1012.2,532.5 1015.6,532.8 1019.0,533.0 1022.0,533.3 1024.2,533.5 1025.8,533.7 1027.2,533.9 1028.5,534.1 1030.0,534.4 1031.7,534.8 1034.3,535.3 1037.9,536.1 1041.9,537.0 1045.9,537.8 1049.2,538.5 1052.7,539.2 1057.1,540.0 1061.7,540.9 1065.9,541.6 1069.2,542.2 1071.7,542.8 1074.2,543.4 1076.9,544.0 1079.7,544.4 1083.0,544.8 1087.5,544.9 1093.6,544.9 1100.7,544.9 1107.8,544.8 1114.2,544.8 1121.8,544.7 1131.8,544.5 1142.5,544.3 1152.2,544.1 1159.2,544.0 1164.3,543.9 1169.4,543.8 1174.1,543.7 1177.8,543.6 1180.2,543.5"/>
</g>
<g fill="#161616">
<polygon points="155.9,447.4 158.5,444.1 167.2,451.0 170.7,454.3 162.1,451.1"/>
<polygon points="549.1,378.1 551.8,374.9 560.5,381.8 564.0,385.1 555.3,381.9"/>
<polygon points="579.1,400.6 581.8,397.4 590.5,404.3 594.0,407.6 585.3,404.4"/>
<polygon points="689.6,442.2 692.2,438.9 700.9,445.9 704.4,449.2 695.8,445.9"/>
<polygon points="859.1,471.6 861.7,468.3 870.4,475.2 873.9,478.5 865.3,475.3"/>
</g>
<polygon points="80.8,498.7 102.6,515.2 102.6,639.6 80.8,627.1" fill="url(#side)"/>
<path d="M80.8 498.7 L102.6 515.2" stroke="#161616" stroke-width="2" fill="none"/>
<path d="M80.8 499.7 V626.5 L102.1 639.6" stroke="#161616" stroke-width="5.2" fill="none" stroke-linejoin="round" stroke-linecap="round"/>
<clipPath id="cf"><path d="M102.6 515.2 L104.1 515.3 L106.4 515.5 L109.2 515.6 L111.8 515.6 L114.0 515.4 L116.0 514.6 L118.4 513.2 L120.8 511.7 L123.2 510.4 L125.3 509.8 L127.5 510.1 L130.2 511.1 L133.1 512.3 L135.8 513.4 L137.8 513.9 L139.6 513.7 L141.5 513.2 L143.4 512.4 L145.2 511.6 L146.6 511.0 L147.9 510.4 L149.5 509.6 L151.0 508.8 L152.4 508.0 L153.5 507.3 L154.4 506.6 L155.3 505.9 L156.2 505.0 L157.1 504.0 L157.9 502.9 L158.8 501.3 L159.8 498.9 L161.0 496.3 L162.1 493.7 L163.0 491.6 L163.9 489.4 L165.0 486.7 L166.1 483.8 L167.2 481.1 L168.0 479.0 L168.8 477.0 L169.7 474.8 L170.6 472.5 L171.4 470.5 L172.0 469.0 L172.5 467.9 L173.0 466.8 L173.5 465.8 L174.0 464.9 L174.3 464.3 L174.6 463.8 L174.9 463.4 L175.3 463.0 L175.6 462.6 L175.8 462.4 L176.0 462.2 L176.3 462.1 L176.5 461.9 L176.8 461.8 L177.0 461.8 L177.2 461.8 L177.5 461.9 L177.7 462.1 L178.0 462.2 L178.2 462.4 L178.4 462.6 L178.7 463.0 L179.1 463.4 L179.4 463.8 L179.7 464.3 L180.0 464.8 L180.4 465.4 L180.9 466.2 L181.4 467.2 L182.0 468.5 L182.9 470.5 L184.2 473.5 L185.6 476.9 L187.0 480.2 L188.1 482.8 L189.2 485.4 L190.4 488.5 L191.7 491.7 L192.9 494.6 L193.7 496.6 L194.3 498.1 L194.8 499.5 L195.2 500.7 L195.7 501.6 L196.3 502.2 L197.1 502.3 L198.2 502.0 L199.5 501.6 L200.8 501.3 L201.9 501.2 L203.2 501.5 L204.8 502.1 L206.5 502.8 L208.2 503.5 L209.4 504.1 L210.4 504.7 L211.5 505.4 L212.6 506.2 L213.6 507.1 L214.5 507.9 L215.4 509.0 L216.4 510.4 L217.5 512.0 L218.6 513.5 L219.5 514.8 L220.5 516.3 L221.7 518.1 L223.0 520.1 L224.2 521.7 L225.2 522.7 L226.1 523.0 L227.2 522.8 L228.3 522.5 L229.3 522.0 L230.0 521.7 L230.5 521.5 L230.9 521.2 L231.3 520.9 L231.8 520.5 L232.5 520.0 L233.6 519.2 L235.2 518.0 L237.0 516.6 L238.7 515.2 L240.0 513.8 L241.2 512.0 L242.5 509.6 L243.9 507.0 L245.2 504.5 L246.2 502.5 L247.3 500.6 L248.6 498.4 L250.0 496.1 L251.3 494.0 L252.5 492.5 L253.7 491.4 L255.1 490.3 L256.6 489.2 L258.3 488.3 L260.0 487.5 L262.4 486.7 L265.8 485.7 L269.4 484.7 L272.7 483.7 L275.0 483.0 L276.3 482.5 L277.4 481.9 L278.3 481.4 L279.1 480.6 L280.0 479.5 L281.2 477.6 L282.8 474.8 L284.5 471.6 L286.2 468.6 L287.5 466.2 L288.8 464.0 L290.3 461.3 L291.9 458.5 L293.3 456.3 L294.5 455.0 L295.5 454.8 L296.6 455.2 L297.8 456.0 L298.9 457.0 L300.0 458.0 L301.2 459.2 L302.8 461.0 L304.5 463.0 L306.1 464.9 L307.5 466.2 L308.8 467.2 L310.4 468.1 L312.1 469.1 L313.7 470.1 L315.0 471.2 L316.3 473.0 L318.0 475.4 L319.7 478.0 L321.2 480.6 L322.5 482.5 L323.7 484.2 L325.0 486.2 L326.4 488.1 L327.7 489.9 L328.8 491.2 L329.8 492.3 L331.1 493.4 L332.5 494.5 L333.8 495.4 L335.0 496.2 L336.3 497.1 L337.9 498.2 L339.7 499.3 L341.3 500.2 L342.5 500.8 L343.5 500.9 L344.6 500.9 L345.6 500.7 L346.6 500.4 L347.5 500.0 L348.4 499.4 L349.4 498.5 L350.4 497.4 L351.5 496.2 L352.5 495.0 L353.7 493.2 L355.3 490.7 L357.0 487.9 L358.6 485.4 L360.0 483.8 L361.3 482.9 L362.8 482.2 L364.4 481.8 L366.0 481.5 L367.5 481.2 L369.3 481.2 L371.8 481.4 L374.4 481.6 L376.8 481.6 L378.8 481.2 L380.4 480.1 L382.3 478.2 L384.3 476.0 L386.0 474.0 L387.5 472.5 L388.9 471.4 L390.5 470.4 L392.2 469.3 L393.7 468.4 L395.0 467.5 L396.2 466.5 L397.6 465.1 L399.0 463.8 L400.3 462.6 L401.2 462.0 L402.0 461.9 L402.7 462.1 L403.4 462.5 L404.2 463.1 L405.0 463.8 L406.2 464.8 L407.8 466.5 L409.6 468.3 L411.2 470.0 L412.5 471.2 L413.5 472.1 L414.5 473.0 L415.6 473.9 L416.6 474.6 L417.5 475.0 L418.5 475.3 L419.8 475.4 L421.2 475.5 L422.6 475.3 L423.8 475.0 L425.0 474.3 L426.5 473.1 L428.2 471.7 L429.8 470.2 L431.2 468.8 L432.8 467.0 L434.6 464.7 L436.6 462.1 L438.5 459.6 L440.0 457.5 L441.4 455.4 L443.1 452.9 L444.8 450.2 L446.3 447.9 L447.5 446.2 L448.5 445.2 L449.5 444.2 L450.5 443.4 L451.5 442.8 L452.5 442.5 L453.7 442.7 L455.2 443.2 L456.9 443.9 L458.5 444.4 L460.0 444.5 L461.6 444.0 L463.7 443.1 L466.0 442.0 L468.2 440.9 L470.0 440.0 L471.7 439.2 L473.8 438.3 L476.0 437.4 L478.1 436.5 L480.0 435.8 L482.2 434.9 L484.9 434.0 L487.9 432.9 L490.5 432.0 L492.5 431.2 L494.0 430.6 L495.6 429.8 L497.1 429.1 L498.4 428.5 L499.5 428.2 L500.5 428.4 L501.7 428.9 L502.9 429.6 L504.0 430.3 L505.0 430.8 L506.1 431.2 L507.4 431.8 L508.9 432.3 L510.2 432.6 L511.2 432.5 L512.2 431.8 L513.2 430.6 L514.3 429.2 L515.3 427.6 L516.2 426.2 L517.3 424.6 L518.5 422.4 L519.9 420.0 L521.1 417.9 L522.0 416.2 L522.6 415.0 L523.2 413.6 L523.7 412.3 L524.3 411.2 L525.0 410.5 L526.0 410.1 L527.5 409.9 L529.1 409.7 L530.9 409.6 L532.5 409.2 L534.5 408.7 L537.1 407.9 L540.0 407.0 L542.7 406.0 L545.0 405.0 L547.3 403.6 L550.0 401.7 L552.9 399.5 L555.5 397.6 L557.5 396.2 L559.1 395.3 L560.7 394.4 L562.3 393.5 L563.8 392.9 L565.0 392.5 L566.2 392.3 L567.5 392.1 L568.9 392.2 L570.2 392.4 L571.2 393.0 L572.4 394.2 L573.7 396.1 L575.1 398.4 L576.4 400.6 L577.5 402.5 L578.6 404.5 L580.0 407.0 L581.4 409.7 L582.7 412.0 L583.8 413.8 L584.7 415.0 L585.7 416.3 L586.8 417.5 L587.8 418.3 L588.8 418.8 L589.8 418.5 L591.1 417.8 L592.5 416.9 L593.9 416.0 L595.0 415.5 L596.1 415.2 L597.3 415.0 L598.7 414.8 L600.0 415.0 L601.2 415.5 L602.7 416.7 L604.5 418.7 L606.4 421.0 L608.4 423.4 L610.0 425.5 L611.7 427.8 L613.8 430.8 L616.1 434.0 L618.2 437.2 L620.0 440.0 L621.8 443.0 L624.0 446.8 L626.3 450.9 L628.4 454.6 L630.0 457.5 L631.4 460.0 L633.1 462.8 L634.7 465.5 L636.2 468.0 L637.5 470.0 L638.8 471.8 L640.5 473.8 L642.2 475.8 L643.7 477.6 L645.0 478.8 L646.1 479.6 L647.4 480.3 L648.7 480.8 L650.0 481.2 L651.2 481.2 L652.6 481.0 L654.4 480.4 L656.4 479.6 L658.3 478.7 L660.0 478.0 L661.9 477.3 L664.3 476.4 L666.9 475.4 L669.3 474.2 L671.2 473.0 L673.0 471.1 L675.1 468.5 L677.2 465.6 L679.3 463.0 L681.2 461.2 L683.5 460.2 L686.3 459.5 L689.5 458.9 L692.5 458.4 L695.0 458.0 L697.7 457.5 L701.0 456.9 L704.5 456.4 L707.7 456.1 L710.0 456.2 L711.7 457.1 L713.3 458.5 L714.9 460.2 L716.3 462.1 L717.5 463.8 L718.8 465.7 L720.4 468.2 L722.1 471.1 L723.7 473.9 L725.0 476.2 L726.3 478.9 L727.9 482.3 L729.6 485.8 L731.2 489.0 L732.5 491.2 L733.8 492.7 L735.5 494.0 L737.2 495.1 L738.7 496.3 L740.0 497.5 L741.2 499.3 L742.5 501.7 L743.9 504.4 L745.2 506.9 L746.2 508.8 L747.2 510.3 L748.3 512.0 L749.5 513.7 L750.8 515.2 L752.5 516.2 L755.0 517.0 L758.7 517.6 L762.8 518.2 L766.8 518.8 L770.0 519.5 L773.2 520.7 L777.0 522.3 L781.0 524.1 L784.6 525.8 L787.5 527.0 L790.0 527.9 L792.7 528.9 L795.5 529.8 L798.0 530.6 L800.0 531.2 L801.8 531.8 L803.9 532.5 L806.0 533.1 L808.1 533.5 L810.0 533.8 L812.4 533.7 L815.5 533.5 L818.8 533.2 L821.7 532.7 L823.8 532.0 L825.0 531.0 L826.1 529.4 L827.1 527.6 L827.9 525.7 L828.8 523.8 L829.8 521.1 L831.2 517.5 L832.7 513.5 L834.0 510.0 L835.0 507.5 L835.7 505.9 L836.4 504.5 L837.0 503.3 L837.5 502.3 L838.0 501.5 L838.5 500.6 L839.0 499.7 L839.6 498.8 L840.2 498.0 L840.7 497.6 L841.2 497.5 L841.8 497.7 L842.5 498.0 L843.2 498.3 L844.0 498.6 L845.0 499.0 L846.4 499.5 L847.9 500.0 L849.4 500.4 L850.7 500.6 L852.0 500.4 L853.7 500.0 L855.4 499.4 L857.0 498.8 L858.2 498.2 L859.2 497.4 L860.2 496.4 L861.2 495.2 L862.1 494.0 L863.0 493.0 L863.9 491.8 L864.9 490.2 L866.0 488.6 L867.2 487.1 L868.5 486.2 L870.3 485.7 L872.9 485.4 L875.7 485.2 L878.2 485.3 L880.0 485.6 L881.2 486.5 L882.3 487.9 L883.3 489.6 L884.2 491.2 L885.0 492.5 L885.8 493.8 L886.8 495.4 L887.8 497.0 L888.9 498.4 L890.0 499.2 L891.5 499.6 L893.5 499.5 L895.8 499.4 L898.0 499.2 L900.0 499.2 L902.1 499.4 L904.8 499.6 L907.7 500.0 L910.4 500.5 L912.5 501.2 L914.4 502.7 L916.5 504.8 L918.7 507.2 L920.8 509.5 L922.5 511.2 L924.3 512.8 L926.4 514.5 L928.6 516.3 L930.7 518.0 L932.5 519.5 L934.3 521.1 L936.4 523.2 L938.7 525.3 L940.8 527.3 L942.5 528.8 L944.1 530.1 L945.9 531.5 L947.8 533.0 L949.7 534.0 L951.2 534.5 L953.0 534.1 L955.2 533.1 L957.5 531.8 L959.6 530.6 L961.2 530.0 L962.7 530.0 L964.3 530.3 L966.0 530.8 L967.5 531.4 L968.8 532.0 L969.9 532.7 L971.2 533.7 L972.5 534.9 L973.8 536.0 L975.0 537.0 L976.4 538.1 L978.2 539.4 L980.1 540.9 L982.0 542.1 L983.8 543.0 L985.6 543.6 L987.8 544.0 L990.3 544.4 L992.8 544.7 L995.0 545.0 L997.4 545.3 L1000.4 545.7 L1003.8 546.1 L1007.1 546.4 L1010.0 546.8 L1013.4 547.1 L1017.7 547.5 L1022.3 548.0 L1026.6 548.4 L1030.0 548.8 L1033.0 549.0 L1036.4 549.3 L1039.8 549.5 L1042.8 549.8 L1045.0 550.0 L1046.6 550.2 L1048.0 550.4 L1049.3 550.6 L1050.8 550.9 L1052.5 551.2 L1055.1 551.8 L1058.7 552.6 L1062.7 553.5 L1066.7 554.3 L1070.0 555.0 L1073.5 555.7 L1077.9 556.5 L1082.5 557.4 L1086.7 558.1 L1090.0 558.8 L1092.5 559.3 L1095.0 559.9 L1097.7 560.5 L1100.5 560.9 L1103.8 561.2 L1108.3 561.4 L1114.4 561.4 L1121.5 561.4 L1128.6 561.3 L1135.0 561.2 L1142.6 561.2 L1152.6 561.0 L1163.3 560.8 L1173.0 560.6 L1180.0 560.5 L1185.1 560.4 L1190.2 560.3 L1194.9 560.2 L1198.6 560.1 L1201.0 560.0 L1201.0 639.6 L102.6 639.6 Z"/></clipPath>
<path d="M102.6 515.2 L104.1 515.3 L106.4 515.5 L109.2 515.6 L111.8 515.6 L114.0 515.4 L116.0 514.6 L118.4 513.2 L120.8 511.7 L123.2 510.4 L125.3 509.8 L127.5 510.1 L130.2 511.1 L133.1 512.3 L135.8 513.4 L137.8 513.9 L139.6 513.7 L141.5 513.2 L143.4 512.4 L145.2 511.6 L146.6 511.0 L147.9 510.4 L149.5 509.6 L151.0 508.8 L152.4 508.0 L153.5 507.3 L154.4 506.6 L155.3 505.9 L156.2 505.0 L157.1 504.0 L157.9 502.9 L158.8 501.3 L159.8 498.9 L161.0 496.3 L162.1 493.7 L163.0 491.6 L163.9 489.4 L165.0 486.7 L166.1 483.8 L167.2 481.1 L168.0 479.0 L168.8 477.0 L169.7 474.8 L170.6 472.5 L171.4 470.5 L172.0 469.0 L172.5 467.9 L173.0 466.8 L173.5 465.8 L174.0 464.9 L174.3 464.3 L174.6 463.8 L174.9 463.4 L175.3 463.0 L175.6 462.6 L175.8 462.4 L176.0 462.2 L176.3 462.1 L176.5 461.9 L176.8 461.8 L177.0 461.8 L177.2 461.8 L177.5 461.9 L177.7 462.1 L178.0 462.2 L178.2 462.4 L178.4 462.6 L178.7 463.0 L179.1 463.4 L179.4 463.8 L179.7 464.3 L180.0 464.8 L180.4 465.4 L180.9 466.2 L181.4 467.2 L182.0 468.5 L182.9 470.5 L184.2 473.5 L185.6 476.9 L187.0 480.2 L188.1 482.8 L189.2 485.4 L190.4 488.5 L191.7 491.7 L192.9 494.6 L193.7 496.6 L194.3 498.1 L194.8 499.5 L195.2 500.7 L195.7 501.6 L196.3 502.2 L197.1 502.3 L198.2 502.0 L199.5 501.6 L200.8 501.3 L201.9 501.2 L203.2 501.5 L204.8 502.1 L206.5 502.8 L208.2 503.5 L209.4 504.1 L210.4 504.7 L211.5 505.4 L212.6 506.2 L213.6 507.1 L214.5 507.9 L215.4 509.0 L216.4 510.4 L217.5 512.0 L218.6 513.5 L219.5 514.8 L220.5 516.3 L221.7 518.1 L223.0 520.1 L224.2 521.7 L225.2 522.7 L226.1 523.0 L227.2 522.8 L228.3 522.5 L229.3 522.0 L230.0 521.7 L230.5 521.5 L230.9 521.2 L231.3 520.9 L231.8 520.5 L232.5 520.0 L233.6 519.2 L235.2 518.0 L237.0 516.6 L238.7 515.2 L240.0 513.8 L241.2 512.0 L242.5 509.6 L243.9 507.0 L245.2 504.5 L246.2 502.5 L247.3 500.6 L248.6 498.4 L250.0 496.1 L251.3 494.0 L252.5 492.5 L253.7 491.4 L255.1 490.3 L256.6 489.2 L258.3 488.3 L260.0 487.5 L262.4 486.7 L265.8 485.7 L269.4 484.7 L272.7 483.7 L275.0 483.0 L276.3 482.5 L277.4 481.9 L278.3 481.4 L279.1 480.6 L280.0 479.5 L281.2 477.6 L282.8 474.8 L284.5 471.6 L286.2 468.6 L287.5 466.2 L288.8 464.0 L290.3 461.3 L291.9 458.5 L293.3 456.3 L294.5 455.0 L295.5 454.8 L296.6 455.2 L297.8 456.0 L298.9 457.0 L300.0 458.0 L301.2 459.2 L302.8 461.0 L304.5 463.0 L306.1 464.9 L307.5 466.2 L308.8 467.2 L310.4 468.1 L312.1 469.1 L313.7 470.1 L315.0 471.2 L316.3 473.0 L318.0 475.4 L319.7 478.0 L321.2 480.6 L322.5 482.5 L323.7 484.2 L325.0 486.2 L326.4 488.1 L327.7 489.9 L328.8 491.2 L329.8 492.3 L331.1 493.4 L332.5 494.5 L333.8 495.4 L335.0 496.2 L336.3 497.1 L337.9 498.2 L339.7 499.3 L341.3 500.2 L342.5 500.8 L343.5 500.9 L344.6 500.9 L345.6 500.7 L346.6 500.4 L347.5 500.0 L348.4 499.4 L349.4 498.5 L350.4 497.4 L351.5 496.2 L352.5 495.0 L353.7 493.2 L355.3 490.7 L357.0 487.9 L358.6 485.4 L360.0 483.8 L361.3 482.9 L362.8 482.2 L364.4 481.8 L366.0 481.5 L367.5 481.2 L369.3 481.2 L371.8 481.4 L374.4 481.6 L376.8 481.6 L378.8 481.2 L380.4 480.1 L382.3 478.2 L384.3 476.0 L386.0 474.0 L387.5 472.5 L388.9 471.4 L390.5 470.4 L392.2 469.3 L393.7 468.4 L395.0 467.5 L396.2 466.5 L397.6 465.1 L399.0 463.8 L400.3 462.6 L401.2 462.0 L402.0 461.9 L402.7 462.1 L403.4 462.5 L404.2 463.1 L405.0 463.8 L406.2 464.8 L407.8 466.5 L409.6 468.3 L411.2 470.0 L412.5 471.2 L413.5 472.1 L414.5 473.0 L415.6 473.9 L416.6 474.6 L417.5 475.0 L418.5 475.3 L419.8 475.4 L421.2 475.5 L422.6 475.3 L423.8 475.0 L425.0 474.3 L426.5 473.1 L428.2 471.7 L429.8 470.2 L431.2 468.8 L432.8 467.0 L434.6 464.7 L436.6 462.1 L438.5 459.6 L440.0 457.5 L441.4 455.4 L443.1 452.9 L444.8 450.2 L446.3 447.9 L447.5 446.2 L448.5 445.2 L449.5 444.2 L450.5 443.4 L451.5 442.8 L452.5 442.5 L453.7 442.7 L455.2 443.2 L456.9 443.9 L458.5 444.4 L460.0 444.5 L461.6 444.0 L463.7 443.1 L466.0 442.0 L468.2 440.9 L470.0 440.0 L471.7 439.2 L473.8 438.3 L476.0 437.4 L478.1 436.5 L480.0 435.8 L482.2 434.9 L484.9 434.0 L487.9 432.9 L490.5 432.0 L492.5 431.2 L494.0 430.6 L495.6 429.8 L497.1 429.1 L498.4 428.5 L499.5 428.2 L500.5 428.4 L501.7 428.9 L502.9 429.6 L504.0 430.3 L505.0 430.8 L506.1 431.2 L507.4 431.8 L508.9 432.3 L510.2 432.6 L511.2 432.5 L512.2 431.8 L513.2 430.6 L514.3 429.2 L515.3 427.6 L516.2 426.2 L517.3 424.6 L518.5 422.4 L519.9 420.0 L521.1 417.9 L522.0 416.2 L522.6 415.0 L523.2 413.6 L523.7 412.3 L524.3 411.2 L525.0 410.5 L526.0 410.1 L527.5 409.9 L529.1 409.7 L530.9 409.6 L532.5 409.2 L534.5 408.7 L537.1 407.9 L540.0 407.0 L542.7 406.0 L545.0 405.0 L547.3 403.6 L550.0 401.7 L552.9 399.5 L555.5 397.6 L557.5 396.2 L559.1 395.3 L560.7 394.4 L562.3 393.5 L563.8 392.9 L565.0 392.5 L566.2 392.3 L567.5 392.1 L568.9 392.2 L570.2 392.4 L571.2 393.0 L572.4 394.2 L573.7 396.1 L575.1 398.4 L576.4 400.6 L577.5 402.5 L578.6 404.5 L580.0 407.0 L581.4 409.7 L582.7 412.0 L583.8 413.8 L584.7 415.0 L585.7 416.3 L586.8 417.5 L587.8 418.3 L588.8 418.8 L589.8 418.5 L591.1 417.8 L592.5 416.9 L593.9 416.0 L595.0 415.5 L596.1 415.2 L597.3 415.0 L598.7 414.8 L600.0 415.0 L601.2 415.5 L602.7 416.7 L604.5 418.7 L606.4 421.0 L608.4 423.4 L610.0 425.5 L611.7 427.8 L613.8 430.8 L616.1 434.0 L618.2 437.2 L620.0 440.0 L621.8 443.0 L624.0 446.8 L626.3 450.9 L628.4 454.6 L630.0 457.5 L631.4 460.0 L633.1 462.8 L634.7 465.5 L636.2 468.0 L637.5 470.0 L638.8 471.8 L640.5 473.8 L642.2 475.8 L643.7 477.6 L645.0 478.8 L646.1 479.6 L647.4 480.3 L648.7 480.8 L650.0 481.2 L651.2 481.2 L652.6 481.0 L654.4 480.4 L656.4 479.6 L658.3 478.7 L660.0 478.0 L661.9 477.3 L664.3 476.4 L666.9 475.4 L669.3 474.2 L671.2 473.0 L673.0 471.1 L675.1 468.5 L677.2 465.6 L679.3 463.0 L681.2 461.2 L683.5 460.2 L686.3 459.5 L689.5 458.9 L692.5 458.4 L695.0 458.0 L697.7 457.5 L701.0 456.9 L704.5 456.4 L707.7 456.1 L710.0 456.2 L711.7 457.1 L713.3 458.5 L714.9 460.2 L716.3 462.1 L717.5 463.8 L718.8 465.7 L720.4 468.2 L722.1 471.1 L723.7 473.9 L725.0 476.2 L726.3 478.9 L727.9 482.3 L729.6 485.8 L731.2 489.0 L732.5 491.2 L733.8 492.7 L735.5 494.0 L737.2 495.1 L738.7 496.3 L740.0 497.5 L741.2 499.3 L742.5 501.7 L743.9 504.4 L745.2 506.9 L746.2 508.8 L747.2 510.3 L748.3 512.0 L749.5 513.7 L750.8 515.2 L752.5 516.2 L755.0 517.0 L758.7 517.6 L762.8 518.2 L766.8 518.8 L770.0 519.5 L773.2 520.7 L777.0 522.3 L781.0 524.1 L784.6 525.8 L787.5 527.0 L790.0 527.9 L792.7 528.9 L795.5 529.8 L798.0 530.6 L800.0 531.2 L801.8 531.8 L803.9 532.5 L806.0 533.1 L808.1 533.5 L810.0 533.8 L812.4 533.7 L815.5 533.5 L818.8 533.2 L821.7 532.7 L823.8 532.0 L825.0 531.0 L826.1 529.4 L827.1 527.6 L827.9 525.7 L828.8 523.8 L829.8 521.1 L831.2 517.5 L832.7 513.5 L834.0 510.0 L835.0 507.5 L835.7 505.9 L836.4 504.5 L837.0 503.3 L837.5 502.3 L838.0 501.5 L838.5 500.6 L839.0 499.7 L839.6 498.8 L840.2 498.0 L840.7 497.6 L841.2 497.5 L841.8 497.7 L842.5 498.0 L843.2 498.3 L844.0 498.6 L845.0 499.0 L846.4 499.5 L847.9 500.0 L849.4 500.4 L850.7 500.6 L852.0 500.4 L853.7 500.0 L855.4 499.4 L857.0 498.8 L858.2 498.2 L859.2 497.4 L860.2 496.4 L861.2 495.2 L862.1 494.0 L863.0 493.0 L863.9 491.8 L864.9 490.2 L866.0 488.6 L867.2 487.1 L868.5 486.2 L870.3 485.7 L872.9 485.4 L875.7 485.2 L878.2 485.3 L880.0 485.6 L881.2 486.5 L882.3 487.9 L883.3 489.6 L884.2 491.2 L885.0 492.5 L885.8 493.8 L886.8 495.4 L887.8 497.0 L888.9 498.4 L890.0 499.2 L891.5 499.6 L893.5 499.5 L895.8 499.4 L898.0 499.2 L900.0 499.2 L902.1 499.4 L904.8 499.6 L907.7 500.0 L910.4 500.5 L912.5 501.2 L914.4 502.7 L916.5 504.8 L918.7 507.2 L920.8 509.5 L922.5 511.2 L924.3 512.8 L926.4 514.5 L928.6 516.3 L930.7 518.0 L932.5 519.5 L934.3 521.1 L936.4 523.2 L938.7 525.3 L940.8 527.3 L942.5 528.8 L944.1 530.1 L945.9 531.5 L947.8 533.0 L949.7 534.0 L951.2 534.5 L953.0 534.1 L955.2 533.1 L957.5 531.8 L959.6 530.6 L961.2 530.0 L962.7 530.0 L964.3 530.3 L966.0 530.8 L967.5 531.4 L968.8 532.0 L969.9 532.7 L971.2 533.7 L972.5 534.9 L973.8 536.0 L975.0 537.0 L976.4 538.1 L978.2 539.4 L980.1 540.9 L982.0 542.1 L983.8 543.0 L985.6 543.6 L987.8 544.0 L990.3 544.4 L992.8 544.7 L995.0 545.0 L997.4 545.3 L1000.4 545.7 L1003.8 546.1 L1007.1 546.4 L1010.0 546.8 L1013.4 547.1 L1017.7 547.5 L1022.3 548.0 L1026.6 548.4 L1030.0 548.8 L1033.0 549.0 L1036.4 549.3 L1039.8 549.5 L1042.8 549.8 L1045.0 550.0 L1046.6 550.2 L1048.0 550.4 L1049.3 550.6 L1050.8 550.9 L1052.5 551.2 L1055.1 551.8 L1058.7 552.6 L1062.7 553.5 L1066.7 554.3 L1070.0 555.0 L1073.5 555.7 L1077.9 556.5 L1082.5 557.4 L1086.7 558.1 L1090.0 558.8 L1092.5 559.3 L1095.0 559.9 L1097.7 560.5 L1100.5 560.9 L1103.8 561.2 L1108.3 561.4 L1114.4 561.4 L1121.5 561.4 L1128.6 561.3 L1135.0 561.2 L1142.6 561.2 L1152.6 561.0 L1163.3 560.8 L1173.0 560.6 L1180.0 560.5 L1185.1 560.4 L1190.2 560.3 L1194.9 560.2 L1198.6 560.1 L1201.0 560.0 L1201.0 639.6 L102.6 639.6 Z" fill="#f7f6e1"/>
<g clip-path="url(#cf)">
<g stroke="#a8a89c" stroke-width="1.25" stroke-dasharray="1.5 3.75">
<line x1="104" y1="422.5" x2="1200" y2="422.5"/>
<line x1="104" y1="457.5" x2="1200" y2="457.5"/>
<line x1="104" y1="492.5" x2="1200" y2="492.5"/>
<line x1="104" y1="527.5" x2="1200" y2="527.5"/>
<line x1="104" y1="562.5" x2="1200" y2="562.5"/>
</g>
<g stroke="#55554f" stroke-width="1.5" stroke-dasharray="0.85 0.9">
<line x1="166.6" y1="380" x2="166.6" y2="639.6"/>
<line x1="231.5" y1="380" x2="231.5" y2="639.6"/>
<line x1="296.3" y1="380" x2="296.3" y2="639.6"/>
<line x1="361.2" y1="380" x2="361.2" y2="639.6"/>
<line x1="426.0" y1="380" x2="426.0" y2="639.6"/>
<line x1="490.9" y1="380" x2="490.9" y2="639.6"/>
<line x1="555.7" y1="380" x2="555.7" y2="639.6"/>
<line x1="620.6" y1="380" x2="620.6" y2="639.6"/>
<line x1="685.4" y1="380" x2="685.4" y2="639.6"/>
<line x1="750.3" y1="380" x2="750.3" y2="639.6"/>
<line x1="815.1" y1="380" x2="815.1" y2="639.6"/>
<line x1="880.0" y1="380" x2="880.0" y2="639.6"/>
<line x1="944.8" y1="380" x2="944.8" y2="639.6"/>
<line x1="1009.7" y1="380" x2="1009.7" y2="639.6"/>
<line x1="1074.5" y1="380" x2="1074.5" y2="639.6"/>
<line x1="1139.4" y1="380" x2="1139.4" y2="639.6"/>
<line x1="1194.5" y1="380" x2="1194.5" y2="639.6"/>
</g>
</g>
<g stroke="#585858" stroke-width="1.45">
<line x1="136.1" y1="513.3" x2="136.1" y2="665.5"/>
<line x1="177.0" y1="461.8" x2="177.0" y2="665.5"/>
<line x1="203.6" y1="501.8" x2="203.6" y2="665.5"/>
<line x1="233.4" y1="519.3" x2="233.4" y2="665.5"/>
<line x1="273.6" y1="483.4" x2="273.6" y2="665.5"/>
<line x1="294.4" y1="455.2" x2="294.4" y2="665.5"/>
<line x1="311.2" y1="468.7" x2="311.2" y2="665.5"/>
<line x1="363.7" y1="482.5" x2="363.7" y2="665.5"/>
<line x1="420.8" y1="475.0" x2="420.8" y2="665.5"/>
<line x1="470.1" y1="440.0" x2="470.1" y2="665.5"/>
<line x1="492.1" y1="431.4" x2="492.1" y2="665.5"/>
<line x1="525.2" y1="410.5" x2="525.2" y2="665.5"/>
<line x1="567.4" y1="392.7" x2="567.4" y2="665.5"/>
<line x1="601.7" y1="416.1" x2="601.7" y2="665.5"/>
<line x1="647.1" y1="479.6" x2="647.1" y2="665.5"/>
<line x1="671.1" y1="473.1" x2="671.1" y2="665.5"/>
<line x1="716.5" y1="462.8" x2="716.5" y2="665.5"/>
<line x1="808.0" y1="533.2" x2="808.0" y2="665.5"/>
<line x1="840.4" y1="498.0" x2="840.4" y2="665.5"/>
<line x1="887.1" y1="495.3" x2="887.1" y2="665.5"/>
<line x1="961.7" y1="530.1" x2="961.7" y2="665.5"/>
<line x1="994.7" y1="545.0" x2="994.7" y2="665.5"/>
<line x1="1045.0" y1="550.0" x2="1045.0" y2="665.5"/>
<line x1="1071.3" y1="555.2" x2="1071.3" y2="665.5"/>
<line x1="1106.9" y1="561.2" x2="1106.9" y2="665.5"/>
<line x1="1156.2" y1="560.9" x2="1156.2" y2="665.5"/>
</g>
<text class="e" x="565" y="426.5" textLength="15.0" lengthAdjust="spacingAndGlyphs">800</text>
<text class="e" x="565" y="461.5" textLength="15.0" lengthAdjust="spacingAndGlyphs">600</text>
<text class="e" x="565" y="496.5" textLength="15.0" lengthAdjust="spacingAndGlyphs">400</text>
<text class="e" x="565" y="531.5" textLength="15.0" lengthAdjust="spacingAndGlyphs">200</text>
<text class="e" x="565" y="566.5" textLength="5.0" lengthAdjust="spacingAndGlyphs">0</text>
<line x1="101" y1="639.6" x2="1201" y2="639.6" stroke="#3a3a3a" stroke-width="1.7"/>
<line x1="102.1" y1="514.7" x2="102.1" y2="665.5" stroke="#111" stroke-width="2.2"/>
<polyline points="102.6,515.2 104.1,515.3 106.4,515.5 109.2,515.6 111.8,515.6 114.0,515.4 116.0,514.6 118.4,513.2 120.8,511.7 123.2,510.4 125.3,509.8 127.5,510.1 130.2,511.1 133.1,512.3 135.8,513.4 137.8,513.9 139.6,513.7 141.5,513.2 143.4,512.4 145.2,511.6 146.6,511.0 147.9,510.4 149.5,509.6 151.0,508.8 152.4,508.0 153.5,507.3 154.4,506.6 155.3,505.9 156.2,505.0 157.1,504.0 157.9,502.9 158.8,501.3 159.8,498.9 161.0,496.3 162.1,493.7 163.0,491.6 163.9,489.4 165.0,486.7 166.1,483.8 167.2,481.1 168.0,479.0 168.8,477.0 169.7,474.8 170.6,472.5 171.4,470.5 172.0,469.0 172.5,467.9 173.0,466.8 173.5,465.8 174.0,464.9 174.3,464.3 174.6,463.8 174.9,463.4 175.3,463.0 175.6,462.6 175.8,462.4 176.0,462.2 176.3,462.1 176.5,461.9 176.8,461.8 177.0,461.8 177.2,461.8 177.5,461.9 177.7,462.1 178.0,462.2 178.2,462.4 178.4,462.6 178.7,463.0 179.1,463.4 179.4,463.8 179.7,464.3 180.0,464.8 180.4,465.4 180.9,466.2 181.4,467.2 182.0,468.5 182.9,470.5 184.2,473.5 185.6,476.9 187.0,480.2 188.1,482.8 189.2,485.4 190.4,488.5 191.7,491.7 192.9,494.6 193.7,496.6 194.3,498.1 194.8,499.5 195.2,500.7 195.7,501.6 196.3,502.2 197.1,502.3 198.2,502.0 199.5,501.6 200.8,501.3 201.9,501.2 203.2,501.5 204.8,502.1 206.5,502.8 208.2,503.5 209.4,504.1 210.4,504.7 211.5,505.4 212.6,506.2 213.6,507.1 214.5,507.9 215.4,509.0 216.4,510.4 217.5,512.0 218.6,513.5 219.5,514.8 220.5,516.3 221.7,518.1 223.0,520.1 224.2,521.7 225.2,522.7 226.1,523.0 227.2,522.8 228.3,522.5 229.3,522.0 230.0,521.7 230.5,521.5 230.9,521.2 231.3,520.9 231.8,520.5 232.5,520.0 233.6,519.2 235.2,518.0 237.0,516.6 238.7,515.2 240.0,513.8 241.2,512.0 242.5,509.6 243.9,507.0 245.2,504.5 246.2,502.5 247.3,500.6 248.6,498.4 250.0,496.1 251.3,494.0 252.5,492.5 253.7,491.4 255.1,490.3 256.6,489.2 258.3,488.3 260.0,487.5 262.4,486.7 265.8,485.7 269.4,484.7 272.7,483.7 275.0,483.0 276.3,482.5 277.4,481.9 278.3,481.4 279.1,480.6 280.0,479.5 281.2,477.6 282.8,474.8 284.5,471.6 286.2,468.6 287.5,466.2 288.8,464.0 290.3,461.3 291.9,458.5 293.3,456.3 294.5,455.0 295.5,454.8 296.6,455.2 297.8,456.0 298.9,457.0 300.0,458.0 301.2,459.2 302.8,461.0 304.5,463.0 306.1,464.9 307.5,466.2 308.8,467.2 310.4,468.1 312.1,469.1 313.7,470.1 315.0,471.2 316.3,473.0 318.0,475.4 319.7,478.0 321.2,480.6 322.5,482.5 323.7,484.2 325.0,486.2 326.4,488.1 327.7,489.9 328.8,491.2 329.8,492.3 331.1,493.4 332.5,494.5 333.8,495.4 335.0,496.2 336.3,497.1 337.9,498.2 339.7,499.3 341.3,500.2 342.5,500.8 343.5,500.9 344.6,500.9 345.6,500.7 346.6,500.4 347.5,500.0 348.4,499.4 349.4,498.5 350.4,497.4 351.5,496.2 352.5,495.0 353.7,493.2 355.3,490.7 357.0,487.9 358.6,485.4 360.0,483.8 361.3,482.9 362.8,482.2 364.4,481.8 366.0,481.5 367.5,481.2 369.3,481.2 371.8,481.4 374.4,481.6 376.8,481.6 378.8,481.2 380.4,480.1 382.3,478.2 384.3,476.0 386.0,474.0 387.5,472.5 388.9,471.4 390.5,470.4 392.2,469.3 393.7,468.4 395.0,467.5 396.2,466.5 397.6,465.1 399.0,463.8 400.3,462.6 401.2,462.0 402.0,461.9 402.7,462.1 403.4,462.5 404.2,463.1 405.0,463.8 406.2,464.8 407.8,466.5 409.6,468.3 411.2,470.0 412.5,471.2 413.5,472.1 414.5,473.0 415.6,473.9 416.6,474.6 417.5,475.0 418.5,475.3 419.8,475.4 421.2,475.5 422.6,475.3 423.8,475.0 425.0,474.3 426.5,473.1 428.2,471.7 429.8,470.2 431.2,468.8 432.8,467.0 434.6,464.7 436.6,462.1 438.5,459.6 440.0,457.5 441.4,455.4 443.1,452.9 444.8,450.2 446.3,447.9 447.5,446.2 448.5,445.2 449.5,444.2 450.5,443.4 451.5,442.8 452.5,442.5 453.7,442.7 455.2,443.2 456.9,443.9 458.5,444.4 460.0,444.5 461.6,444.0 463.7,443.1 466.0,442.0 468.2,440.9 470.0,440.0 471.7,439.2 473.8,438.3 476.0,437.4 478.1,436.5 480.0,435.8 482.2,434.9 484.9,434.0 487.9,432.9 490.5,432.0 492.5,431.2 494.0,430.6 495.6,429.8 497.1,429.1 498.4,428.5 499.5,428.2 500.5,428.4 501.7,428.9 502.9,429.6 504.0,430.3 505.0,430.8 506.1,431.2 507.4,431.8 508.9,432.3 510.2,432.6 511.2,432.5 512.2,431.8 513.2,430.6 514.3,429.2 515.3,427.6 516.2,426.2 517.3,424.6 518.5,422.4 519.9,420.0 521.1,417.9 522.0,416.2 522.6,415.0 523.2,413.6 523.7,412.3 524.3,411.2 525.0,410.5 526.0,410.1 527.5,409.9 529.1,409.7 530.9,409.6 532.5,409.2 534.5,408.7 537.1,407.9 540.0,407.0 542.7,406.0 545.0,405.0 547.3,403.6 550.0,401.7 552.9,399.5 555.5,397.6 557.5,396.2 559.1,395.3 560.7,394.4 562.3,393.5 563.8,392.9 565.0,392.5 566.2,392.3 567.5,392.1 568.9,392.2 570.2,392.4 571.2,393.0 572.4,394.2 573.7,396.1 575.1,398.4 576.4,400.6 577.5,402.5 578.6,404.5 580.0,407.0 581.4,409.7 582.7,412.0 583.8,413.8 584.7,415.0 585.7,416.3 586.8,417.5 587.8,418.3 588.8,418.8 589.8,418.5 591.1,417.8 592.5,416.9 593.9,416.0 595.0,415.5 596.1,415.2 597.3,415.0 598.7,414.8 600.0,415.0 601.2,415.5 602.7,416.7 604.5,418.7 606.4,421.0 608.4,423.4 610.0,425.5 611.7,427.8 613.8,430.8 616.1,434.0 618.2,437.2 620.0,440.0 621.8,443.0 624.0,446.8 626.3,450.9 628.4,454.6 630.0,457.5 631.4,460.0 633.1,462.8 634.7,465.5 636.2,468.0 637.5,470.0 638.8,471.8 640.5,473.8 642.2,475.8 643.7,477.6 645.0,478.8 646.1,479.6 647.4,480.3 648.7,480.8 650.0,481.2 651.2,481.2 652.6,481.0 654.4,480.4 656.4,479.6 658.3,478.7 660.0,478.0 661.9,477.3 664.3,476.4 666.9,475.4 669.3,474.2 671.2,473.0 673.0,471.1 675.1,468.5 677.2,465.6 679.3,463.0 681.2,461.2 683.5,460.2 686.3,459.5 689.5,458.9 692.5,458.4 695.0,458.0 697.7,457.5 701.0,456.9 704.5,456.4 707.7,456.1 710.0,456.2 711.7,457.1 713.3,458.5 714.9,460.2 716.3,462.1 717.5,463.8 718.8,465.7 720.4,468.2 722.1,471.1 723.7,473.9 725.0,476.2 726.3,478.9 727.9,482.3 729.6,485.8 731.2,489.0 732.5,491.2 733.8,492.7 735.5,494.0 737.2,495.1 738.7,496.3 740.0,497.5 741.2,499.3 742.5,501.7 743.9,504.4 745.2,506.9 746.2,508.8 747.2,510.3 748.3,512.0 749.5,513.7 750.8,515.2 752.5,516.2 755.0,517.0 758.7,517.6 762.8,518.2 766.8,518.8 770.0,519.5 773.2,520.7 777.0,522.3 781.0,524.1 784.6,525.8 787.5,527.0 790.0,527.9 792.7,528.9 795.5,529.8 798.0,530.6 800.0,531.2 801.8,531.8 803.9,532.5 806.0,533.1 808.1,533.5 810.0,533.8 812.4,533.7 815.5,533.5 818.8,533.2 821.7,532.7 823.8,532.0 825.0,531.0 826.1,529.4 827.1,527.6 827.9,525.7 828.8,523.8 829.8,521.1 831.2,517.5 832.7,513.5 834.0,510.0 835.0,507.5 835.7,505.9 836.4,504.5 837.0,503.3 837.5,502.3 838.0,501.5 838.5,500.6 839.0,499.7 839.6,498.8 840.2,498.0 840.7,497.6 841.2,497.5 841.8,497.7 842.5,498.0 843.2,498.3 844.0,498.6 845.0,499.0 846.4,499.5 847.9,500.0 849.4,500.4 850.7,500.6 852.0,500.4 853.7,500.0 855.4,499.4 857.0,498.8 858.2,498.2 859.2,497.4 860.2,496.4 861.2,495.2 862.1,494.0 863.0,493.0 863.9,491.8 864.9,490.2 866.0,488.6 867.2,487.1 868.5,486.2 870.3,485.7 872.9,485.4 875.7,485.2 878.2,485.3 880.0,485.6 881.2,486.5 882.3,487.9 883.3,489.6 884.2,491.2 885.0,492.5 885.8,493.8 886.8,495.4 887.8,497.0 888.9,498.4 890.0,499.2 891.5,499.6 893.5,499.5 895.8,499.4 898.0,499.2 900.0,499.2 902.1,499.4 904.8,499.6 907.7,500.0 910.4,500.5 912.5,501.2 914.4,502.7 916.5,504.8 918.7,507.2 920.8,509.5 922.5,511.2 924.3,512.8 926.4,514.5 928.6,516.3 930.7,518.0 932.5,519.5 934.3,521.1 936.4,523.2 938.7,525.3 940.8,527.3 942.5,528.8 944.1,530.1 945.9,531.5 947.8,533.0 949.7,534.0 951.2,534.5 953.0,534.1 955.2,533.1 957.5,531.8 959.6,530.6 961.2,530.0 962.7,530.0 964.3,530.3 966.0,530.8 967.5,531.4 968.8,532.0 969.9,532.7 971.2,533.7 972.5,534.9 973.8,536.0 975.0,537.0 976.4,538.1 978.2,539.4 980.1,540.9 982.0,542.1 983.8,543.0 985.6,543.6 987.8,544.0 990.3,544.4 992.8,544.7 995.0,545.0 997.4,545.3 1000.4,545.7 1003.8,546.1 1007.1,546.4 1010.0,546.8 1013.4,547.1 1017.7,547.5 1022.3,548.0 1026.6,548.4 1030.0,548.8 1033.0,549.0 1036.4,549.3 1039.8,549.5 1042.8,549.8 1045.0,550.0 1046.6,550.2 1048.0,550.4 1049.3,550.6 1050.8,550.9 1052.5,551.2 1055.1,551.8 1058.7,552.6 1062.7,553.5 1066.7,554.3 1070.0,555.0 1073.5,555.7 1077.9,556.5 1082.5,557.4 1086.7,558.1 1090.0,558.8 1092.5,559.3 1095.0,559.9 1097.7,560.5 1100.5,560.9 1103.8,561.2 1108.3,561.4 1114.4,561.4 1121.5,561.4 1128.6,561.3 1135.0,561.2 1142.6,561.2 1152.6,561.0 1163.3,560.8 1173.0,560.6 1180.0,560.5 1185.1,560.4 1190.2,560.3 1194.9,560.2 1198.6,560.1 1201.0,560.0" fill="none" stroke="#e5097f" stroke-width="3" stroke-linejoin="round" stroke-linecap="round"/>
<line x1="177.0" y1="461.4" x2="177.0" y2="596" stroke="#111" stroke-width="2"/>
<circle cx="177.0" cy="461.4" r="5.6" fill="#111" stroke="#fff" stroke-width="1.5"/>
<g transform="translate(177.0,611.1)">
<circle r="16.4" fill="url(#gb)" stroke="#0c1c4a" stroke-width="1.2"/>
<ellipse cx="0" cy="-12.3" rx="4" ry="2.1" fill="#8fc2ee"/>
<polygon points="-12.6,-6.9 12.6,-6.9 0,14" fill="#fff"/>
<text x="-0.2" y="7.6" text-anchor="middle" font-size="17.5" font-weight="bold" font-style="italic" fill="#111" stroke="#111" stroke-width="0.7">3</text>
</g>
<line x1="525.2" y1="409.4" x2="525.2" y2="596" stroke="#111" stroke-width="2"/>
<circle cx="525.2" cy="409.4" r="5.6" fill="#111" stroke="#fff" stroke-width="1.5"/>
<g transform="translate(525.2,611.1)">
<circle r="16.5" fill="url(#gp)" stroke="#3a0a2c" stroke-width="1.2"/>
<path d="M-13.2 -3.5A13.6 13.6 0 0 1 3 -13.3A16 16 0 0 0 -9.5 4Z" fill="#fff" fill-opacity="0.16"/><text transform="translate(-1.5,9.5) skewX(-9)" text-anchor="middle" font-size="27" font-weight="bold" font-style="italic" fill="#fff" stroke="#7a0a5e" stroke-width="1.3" stroke-linejoin="round" paint-order="stroke">S</text>
</g>
<line x1="840.4" y1="500.2" x2="840.4" y2="596" stroke="#111" stroke-width="2"/>
<circle cx="840.4" cy="500.2" r="5.6" fill="#111" stroke="#fff" stroke-width="1.5"/>
<g transform="translate(840.4,611.1)">
<circle r="16.4" fill="url(#gb)" stroke="#0c1c4a" stroke-width="1.2"/>
<ellipse cx="0" cy="-12.3" rx="4" ry="2.1" fill="#8fc2ee"/>
<polygon points="-12.6,-6.9 12.6,-6.9 0,14" fill="#fff"/>
<text x="-0.2" y="7.6" text-anchor="middle" font-size="17.5" font-weight="bold" font-style="italic" fill="#111" stroke="#111" stroke-width="0.7">3</text>
</g>
<line x1="1045.0" y1="550.0" x2="1045.0" y2="596" stroke="#111" stroke-width="2"/>
<circle cx="1045.0" cy="550.0" r="5.6" fill="#111" stroke="#fff" stroke-width="1.5"/>
<g transform="translate(1045.0,611.1)">
<circle r="16.5" fill="url(#gp)" stroke="#3a0a2c" stroke-width="1.2"/>
<path d="M-13.2 -3.5A13.6 13.6 0 0 1 3 -13.3A16 16 0 0 0 -9.5 4Z" fill="#fff" fill-opacity="0.16"/><text transform="translate(-1.5,9.5) skewX(-9)" text-anchor="middle" font-size="27" font-weight="bold" font-style="italic" fill="#fff" stroke="#7a0a5e" stroke-width="1.3" stroke-linejoin="round" paint-order="stroke">S</text>
</g>
<use href="#tun" x="684.6" y="633.7"/>
<use href="#tun" x="691.3" y="633.7"/>
<use href="#tun" x="698.0" y="633.7"/>
<use href="#tun" x="704.6" y="633.7"/>
<use href="#tun" x="711.3" y="633.7"/>
<use href="#tun" x="718.0" y="633.7"/>
<use href="#tun" x="724.7" y="633.7"/>
<text class="l" transform="translate(122.10,463.30) rotate(-90)" textLength="117.1" lengthAdjust="spacingAndGlyphs">280 - Pratola Serra</text>
<text class="b" transform="translate(163.25,410.00) rotate(-90)" textLength="135.0" lengthAdjust="spacingAndGlyphs">584 - PASSO SERRA</text>
<text class="l" transform="translate(190.00,437.50) rotate(-90)" textLength="96.2" lengthAdjust="spacingAndGlyphs">370 - Venticano</text>
<text class="l" transform="translate(219.25,467.70) rotate(-90)" textLength="75.2" lengthAdjust="spacingAndGlyphs">251 - Calore</text>
<text class="l" transform="translate(260.00,435.00) rotate(-90)" textLength="151.2" lengthAdjust="spacingAndGlyphs">443 - Passo di Mirabella</text>
<text class="l" transform="translate(281.25,403.75) rotate(-90)" textLength="138.8" lengthAdjust="spacingAndGlyphs">619 - Croce Calabrone</text>
<text class="l" transform="translate(297.50,418.00) rotate(-90)" textLength="112.5" lengthAdjust="spacingAndGlyphs">531 - Fontanarosa</text>
<text class="l" transform="translate(350.00,433.75) rotate(-90)" textLength="105.0" lengthAdjust="spacingAndGlyphs">449 - Paternopoli</text>
<text class="l" transform="translate(407.50,428.75) rotate(-90)" textLength="108.8" lengthAdjust="spacingAndGlyphs">381 - Castelfranci</text>
<text class="l" transform="translate(457.00,388.00) rotate(-90)" textLength="200.0" lengthAdjust="spacingAndGlyphs">709 - Bv. di Torella dei Lombardi</text>
<text class="l" transform="translate(479.50,385.00) rotate(-90)" textLength="243.8" lengthAdjust="spacingAndGlyphs">729 - Bv. per Sant&#39;Angelo dei Lombardi</text>
<text class="b" transform="translate(510.75,361.25) rotate(-90)" textLength="241.8" lengthAdjust="spacingAndGlyphs">861 - SANT&#39;ANGELO DEI LOMBARDI</text>
<text class="l" transform="translate(552.50,341.25) rotate(-90)" textLength="146.2" lengthAdjust="spacingAndGlyphs">972 - Guardia Lombardi</text>
<text class="l" transform="translate(587.50,365.50) rotate(-90)" textLength="144.2" lengthAdjust="spacingAndGlyphs">835 - Morra De Sanctis</text>
<text class="l" transform="translate(633.75,426.25) rotate(-90)" textLength="105.5" lengthAdjust="spacingAndGlyphs">465 - Ins. ss.7Dir</text>
<text class="l" transform="translate(657.50,420.75) rotate(-90)" textLength="154.5" lengthAdjust="spacingAndGlyphs">518 - Svinc. per Contursi</text>
<text class="l" transform="translate(702.50,415.00) rotate(-90)" textLength="173.8" lengthAdjust="spacingAndGlyphs">554 - Svinc. di Materdomini</text>
<text class="l" transform="translate(793.75,483.75) rotate(-90)" textLength="178.8" lengthAdjust="spacingAndGlyphs">161 - Svinc. per Oliveto Citra</text>
<text class="b" transform="translate(826.25,450.00) rotate(-90)" textLength="140.5" lengthAdjust="spacingAndGlyphs">385 - OLIVETO CITRA</text>
<text class="l" transform="translate(872.50,448.00) rotate(-90)" textLength="113.0" lengthAdjust="spacingAndGlyphs">365 - Bv. per Eboli</text>
<text class="l" transform="translate(947.50,477.50) rotate(-90)" textLength="93.0" lengthAdjust="spacingAndGlyphs">190 - Quadrivio</text>
<text class="l" transform="translate(981.25,495.00) rotate(-90)" textLength="57.0" lengthAdjust="spacingAndGlyphs">98 - Eboli</text>
<text class="b" transform="translate(1031.25,498.25) rotate(-90)" textLength="119.5" lengthAdjust="spacingAndGlyphs">72 - BATTIPAGLIA</text>
<text class="l" transform="translate(1057.50,502.50) rotate(-90)" textLength="87.5" lengthAdjust="spacingAndGlyphs">53 - Tavernola</text>
<text class="l" transform="translate(1092.50,510.50) rotate(-90)" textLength="66.0" lengthAdjust="spacingAndGlyphs">6 - Spineta</text>
<text class="l" transform="translate(1142.00,511.25) rotate(-90)" textLength="111.2" lengthAdjust="spacingAndGlyphs">3 - Torre Picentina</text>
<text class="kb" transform="translate(108.60,690.90) rotate(-90)" textLength="19.3" lengthAdjust="spacingAndGlyphs">0.0</text>
<text class="k" transform="translate(142.97,690.00) rotate(-90)" textLength="18.4" lengthAdjust="spacingAndGlyphs">5.3</text>
<text class="kb" transform="translate(183.83,699.70) rotate(-90)" textLength="28.1" lengthAdjust="spacingAndGlyphs">11.6</text>
<text class="k" transform="translate(210.41,698.80) rotate(-90)" textLength="27.2" lengthAdjust="spacingAndGlyphs">15.7</text>
<text class="k" transform="translate(240.25,698.80) rotate(-90)" textLength="27.2" lengthAdjust="spacingAndGlyphs">20.3</text>
<text class="k" transform="translate(280.45,698.80) rotate(-90)" textLength="27.2" lengthAdjust="spacingAndGlyphs">26.5</text>
<text class="k" transform="translate(301.20,698.80) rotate(-90)" textLength="27.2" lengthAdjust="spacingAndGlyphs">29.7</text>
<text class="k" transform="translate(318.07,698.80) rotate(-90)" textLength="27.2" lengthAdjust="spacingAndGlyphs">32.3</text>
<text class="k" transform="translate(370.59,698.80) rotate(-90)" textLength="27.2" lengthAdjust="spacingAndGlyphs">40.4</text>
<text class="k" transform="translate(427.66,698.80) rotate(-90)" textLength="27.2" lengthAdjust="spacingAndGlyphs">49.2</text>
<text class="k" transform="translate(476.95,698.80) rotate(-90)" textLength="27.2" lengthAdjust="spacingAndGlyphs">56.8</text>
<text class="k" transform="translate(499.00,698.80) rotate(-90)" textLength="27.2" lengthAdjust="spacingAndGlyphs">60.2</text>
<text class="kb" transform="translate(532.07,699.70) rotate(-90)" textLength="28.1" lengthAdjust="spacingAndGlyphs">65.3</text>
<text class="k" transform="translate(574.22,698.80) rotate(-90)" textLength="27.2" lengthAdjust="spacingAndGlyphs">71.8</text>
<text class="k" transform="translate(608.59,698.80) rotate(-90)" textLength="27.2" lengthAdjust="spacingAndGlyphs">77.1</text>
<text class="k" transform="translate(653.99,698.80) rotate(-90)" textLength="27.2" lengthAdjust="spacingAndGlyphs">84.1</text>
<text class="k" transform="translate(677.98,698.80) rotate(-90)" textLength="27.2" lengthAdjust="spacingAndGlyphs">87.8</text>
<text class="k" transform="translate(723.38,698.80) rotate(-90)" textLength="27.2" lengthAdjust="spacingAndGlyphs">94.8</text>
<text class="k" transform="translate(814.82,706.20) rotate(-90)" textLength="34.6" lengthAdjust="spacingAndGlyphs">108.9</text>
<text class="kb" transform="translate(847.24,707.10) rotate(-90)" textLength="35.5" lengthAdjust="spacingAndGlyphs">113.9</text>
<text class="k" transform="translate(893.93,706.20) rotate(-90)" textLength="34.6" lengthAdjust="spacingAndGlyphs">121.1</text>
<text class="k" transform="translate(968.51,706.20) rotate(-90)" textLength="34.6" lengthAdjust="spacingAndGlyphs">132.6</text>
<text class="k" transform="translate(1001.58,706.20) rotate(-90)" textLength="34.6" lengthAdjust="spacingAndGlyphs">137.7</text>
<text class="kb" transform="translate(1051.85,707.10) rotate(-90)" textLength="35.5" lengthAdjust="spacingAndGlyphs">145.3</text>
<text class="k" transform="translate(1078.11,706.20) rotate(-90)" textLength="34.6" lengthAdjust="spacingAndGlyphs">149.5</text>
<text class="k" transform="translate(1113.78,706.20) rotate(-90)" textLength="34.6" lengthAdjust="spacingAndGlyphs">155.0</text>
<text class="k" transform="translate(1163.06,706.20) rotate(-90)" textLength="34.6" lengthAdjust="spacingAndGlyphs">162.6</text>
<text class="kb" transform="translate(1207.85,707.10) rotate(-90)" textLength="35.5" lengthAdjust="spacingAndGlyphs">171.0</text>
<text class="h" x="98.7" y="655.3" textLength="5.6" lengthAdjust="spacingAndGlyphs">0</text>
<text class="h" x="168.1" y="655.3" textLength="11.3" lengthAdjust="spacingAndGlyphs">10</text>
<text class="h" x="233.0" y="655.3" textLength="11.3" lengthAdjust="spacingAndGlyphs">20</text>
<text class="h" x="297.8" y="655.3" textLength="11.3" lengthAdjust="spacingAndGlyphs">30</text>
<text class="h" x="362.7" y="655.3" textLength="11.3" lengthAdjust="spacingAndGlyphs">40</text>
<text class="h" x="427.5" y="655.3" textLength="11.3" lengthAdjust="spacingAndGlyphs">50</text>
<text class="h" x="492.4" y="655.3" textLength="11.3" lengthAdjust="spacingAndGlyphs">60</text>
<text class="h" x="557.2" y="655.3" textLength="11.3" lengthAdjust="spacingAndGlyphs">70</text>
<text class="h" x="622.1" y="655.3" textLength="11.3" lengthAdjust="spacingAndGlyphs">80</text>
<text class="h" x="686.9" y="655.3" textLength="11.3" lengthAdjust="spacingAndGlyphs">90</text>
<text class="h" x="751.8" y="655.3" textLength="17.0" lengthAdjust="spacingAndGlyphs">100</text>
<text class="h" x="816.6" y="655.3" textLength="17.0" lengthAdjust="spacingAndGlyphs">110</text>
<text class="h" x="881.5" y="655.3" textLength="17.0" lengthAdjust="spacingAndGlyphs">120</text>
<text class="h" x="946.3" y="655.3" textLength="17.0" lengthAdjust="spacingAndGlyphs">130</text>
<text class="h" x="1011.2" y="655.3" textLength="17.0" lengthAdjust="spacingAndGlyphs">140</text>
<text class="h" x="1076.0" y="655.3" textLength="17.0" lengthAdjust="spacingAndGlyphs">150</text>
<text class="h" x="1140.9" y="655.3" textLength="17.0" lengthAdjust="spacingAndGlyphs">160</text>
<text class="h" x="1195.3" y="655.3" textLength="17.0" lengthAdjust="spacingAndGlyphs">170</text>
<path d="M101.75 723.5V738.2H1201.2V723.5M761.2 722.8V738.2" fill="none" stroke="#ababab" stroke-width="1.6"/>
<text class="p" x="412.5" y="733.6" textLength="16.5" lengthAdjust="spacingAndGlyphs">AV</text>
<text class="p" x="979.2" y="733.6" textLength="16.5" lengthAdjust="spacingAndGlyphs">SA</text>
<path d="M33.7 282.6H60.8a5 5 0 0 1 5 5V512a18.5 18.5 0 0 1 -37.1 0V287.6a5 5 0 0 1 5 -5Z" fill="url(#gl)" stroke="#0f9a3b" stroke-width="4.4"/>
<text transform="translate(56.4,486) rotate(-90)" font-size="26" font-weight="bold" fill="#111" stroke="#111" stroke-width="0.7" textLength="190" lengthAdjust="spacingAndGlyphs">269 - ATRIPALDA</text>
<g transform="translate(47.2,512.3)"><circle r="16.4" fill="url(#gg)" stroke="#151515" stroke-width="1.7"/><use href="#bike"/><path d="M-6.4 -3.4C-6.6 -7 -3 -9.6 1.2 -9.4L3.8 -8.2L6.9 -3.4L5.4 -2.3L2.6 -5L0.6 -3.6L2.8 0.4L0.6 4.6L-1.4 3.8L-0.4 0.6L-3.4 -1.2Z" fill="#fff" stroke="#fff" stroke-width="1" stroke-linejoin="round"/><circle cx="4.9" cy="-8.7" r="2.3" fill="#fff"/></g>
<path d="M1219.2 369.2H1246.4a5 5 0 0 1 5 5V558a18.6 18.6 0 0 1 -37.2 0V374.2a5 5 0 0 1 5 -5Z" fill="url(#gr)" stroke="#ec0a1b" stroke-width="4.4"/>
<text transform="translate(1243.2,526.8) rotate(-90)" font-size="26" font-weight="bold" fill="#111" stroke="#111" stroke-width="0.7" textLength="142" lengthAdjust="spacingAndGlyphs">6 - SALERNO</text>
<g transform="translate(1232.5,557.3)"><circle r="15.6" fill="#d5121f" stroke="#101a14" stroke-width="1.7"/><path d="M-10.5 -2C-11 -7 -7 -11.5 -3.5 -12L-4 -4L-6.5 0.5Z" fill="#ee5a1e"/><path d="M1.5 -12C6 -12.5 10.5 -8.5 11 -3.5L8.5 -0.5L5 -3L2.5 -1.5L0 -5Z" fill="#ee5a1e"/><g transform="translate(0,1.2) scale(0.95)"><use href="#bike"/></g><path d="M-2.4 6.2L-4.2 1C-6.4 -2.5 -5.6 -7.5 -4.4 -10L-4.6 -14.4L-2.2 -15.4L-1 -12.6C0 -13.6 1.6 -13.4 2.2 -12.2L3 -14.6L4.6 -14L3.6 -9.4C2.6 -6.4 0.4 -4.6 0.2 -2.4L3.2 1.4L2.4 5.4L0.2 5.2L0.4 2L-1.2 0.4Z" fill="#fff" stroke="#fff" stroke-width="0.8" stroke-linejoin="round"/></g>
<text transform="translate(1235,643.6) rotate(-90)" font-size="15.5" fill="#111" stroke="#111" stroke-width="0.45" textLength="42.5" lengthAdjust="spacingAndGlyphs">SDS</text>
</svg></body></html>
